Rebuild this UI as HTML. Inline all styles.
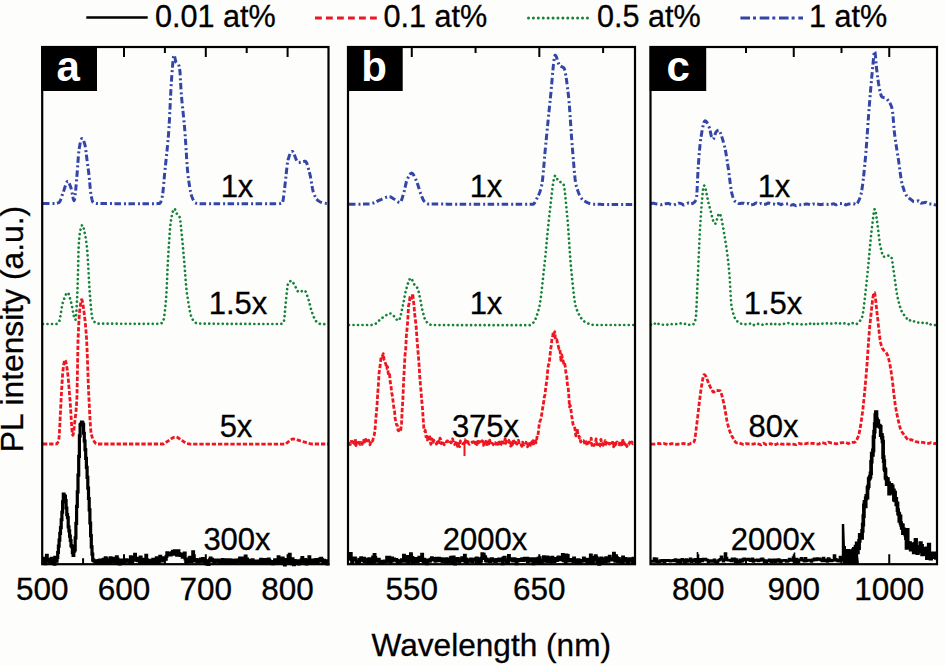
<!DOCTYPE html>
<html><head><meta charset="utf-8"><style>
html,body{margin:0;padding:0;background:#fdfdfb;width:945px;height:666px;overflow:hidden}
svg{display:block}
text{font-family:"Liberation Sans", sans-serif}
</style></head><body>
<svg width="945" height="666" viewBox="0 0 945 666" font-family='"Liberation Sans", sans-serif' fill="#000">
<rect width="945" height="666" fill="#fdfdfb"/>
<path d="M43.00,203.50L43.50,203.50L44.00,203.50L44.50,203.50L45.00,203.50L45.50,203.50L46.00,203.50L46.50,203.50L47.00,203.50L47.50,203.50L48.00,203.50L48.50,203.50L49.00,203.50L49.50,203.50L50.00,203.50L50.50,203.50L51.00,203.50L51.50,203.50L52.00,203.50L52.50,203.50L53.00,203.50L53.50,203.50L54.00,203.50L54.50,203.50L55.00,203.50L55.50,203.48L56.00,203.43L56.50,203.34L57.00,203.23L57.50,203.08L58.00,202.91L58.50,202.72L59.00,202.50L59.50,202.05L60.00,201.22L60.50,200.08L61.00,198.74L61.50,197.27L62.00,195.77L62.50,194.31L63.00,193.00L63.50,191.66L64.00,190.13L64.50,188.50L65.00,186.84L65.50,185.26L66.00,183.83L66.50,182.64L67.00,181.79L67.50,181.34L68.00,181.39L68.50,181.89L69.00,182.76L69.50,183.89L70.00,185.21L70.50,186.61L71.00,188.00L71.50,189.83L72.00,192.33L72.50,195.08L73.00,197.65L73.50,199.62L74.00,200.57L74.50,199.77L75.00,196.75L75.50,192.12L76.00,186.52L76.50,180.60L77.00,175.00L77.50,168.74L78.00,161.44L78.50,154.67L79.00,150.00L79.50,146.96L80.00,144.17L80.50,141.78L81.00,139.94L81.50,138.80L82.00,138.51L82.50,138.82L83.00,139.51L83.50,140.54L84.00,141.84L84.50,143.35L85.00,145.00L85.50,147.60L86.00,151.48L86.50,155.87L87.00,160.00L87.50,163.65L88.00,167.23L88.50,170.95L89.00,175.00L89.50,180.06L90.00,185.87L90.50,191.25L91.00,195.00L91.50,197.45L92.00,199.62L92.50,201.33L93.00,202.41L93.50,202.78L94.00,202.97L94.50,203.13L95.00,203.26L95.50,203.36L96.00,203.44L96.50,203.48L97.00,203.50L97.50,203.50L98.00,203.51L98.50,203.51L99.00,203.52L99.50,203.52L100.00,203.53L100.50,203.53L101.00,203.54L101.50,203.54L102.00,203.54L102.50,203.55L103.00,203.55L103.50,203.56L104.00,203.56L104.50,203.56L105.00,203.57L105.50,203.57L106.00,203.57L106.50,203.58L107.00,203.58L107.50,203.58L108.00,203.59L108.50,203.59L109.00,203.59L109.50,203.60L110.00,203.60L110.50,203.60L111.00,203.61L111.50,203.61L112.00,203.61L112.50,203.61L113.00,203.62L113.50,203.62L114.00,203.62L114.50,203.62L115.00,203.63L115.50,203.63L116.00,203.63L116.50,203.63L117.00,203.64L117.50,203.64L118.00,203.64L118.50,203.64L119.00,203.64L119.50,203.65L120.00,203.65L120.50,203.65L121.00,203.65L121.50,203.65L122.00,203.66L122.50,203.66L123.00,203.66L123.50,203.66L124.00,203.66L124.50,203.66L125.00,203.67L125.50,203.67L126.00,203.67L126.50,203.67L127.00,203.67L127.50,203.67L128.00,203.67L128.50,203.68L129.00,203.68L129.50,203.68L130.00,203.68L130.50,203.68L131.00,203.68L131.50,203.68L132.00,203.68L132.50,203.68L133.00,203.68L133.50,203.69L134.00,203.69L134.50,203.69L135.00,203.69L135.50,203.69L136.00,203.69L136.50,203.69L137.00,203.69L137.50,203.69L138.00,203.69L138.50,203.69L139.00,203.69L139.50,203.69L140.00,203.69L140.50,203.69L141.00,203.69L141.50,203.70L142.00,203.70L142.50,203.70L143.00,203.70L143.50,203.70L144.00,203.70L144.50,203.70L145.00,203.70L145.50,203.70L146.00,203.70L146.50,203.70L147.00,203.70L147.50,203.70L148.00,203.70L148.50,203.70L149.00,203.70L149.50,203.70L150.00,203.70L150.50,203.70L151.00,203.70L151.50,203.70L152.00,203.70L152.50,203.70L153.00,203.70L153.50,203.70L154.00,203.70L154.50,203.70L155.00,203.70L155.50,203.70L156.00,203.69L156.50,203.67L157.00,203.65L157.50,203.62L158.00,203.59L158.50,203.54L159.00,203.49L159.50,203.43L160.00,203.24L160.50,202.51L161.00,201.31L161.50,199.76L162.00,198.00L162.50,195.34L163.00,191.31L163.50,186.33L164.00,180.83L164.50,175.24L165.00,170.00L165.50,165.17L166.00,160.47L166.50,155.75L167.00,150.90L167.50,145.79L168.00,140.29L168.50,134.27L169.00,127.56L169.50,118.87L170.00,108.56L170.50,97.83L171.00,87.90L171.50,80.00L172.00,73.27L172.50,66.60L173.00,60.82L173.50,56.74L174.00,55.20L174.50,56.13L175.00,58.25L175.50,60.54L176.00,62.00L176.50,62.55L177.00,62.89L177.50,63.19L178.00,63.62L178.50,64.36L179.00,65.85L179.50,68.18L180.00,72.03L180.50,80.99L181.00,90.00L181.50,96.26L182.00,101.78L182.50,106.80L183.00,111.56L183.50,116.29L184.00,121.24L184.50,126.65L185.00,132.86L185.50,140.15L186.00,148.06L186.50,156.03L187.00,163.54L187.50,170.05L188.00,175.00L188.50,178.87L189.00,182.45L189.50,185.74L190.00,188.71L190.50,191.34L191.00,193.61L191.50,195.50L192.00,197.00L192.50,198.26L193.00,199.45L193.50,200.52L194.00,201.44L194.50,202.19L195.00,202.72L195.50,203.00L196.00,203.14L196.50,203.27L197.00,203.38L197.50,203.47L198.00,203.55L198.50,203.62L199.00,203.66L199.50,203.69L200.00,203.70L200.50,203.70L201.00,203.70L201.50,203.70L202.00,203.70L202.50,203.70L203.00,203.70L203.50,203.70L204.00,203.70L204.50,203.70L205.00,203.70L205.50,203.70L206.00,203.70L206.50,203.70L207.00,203.70L207.50,203.70L208.00,203.70L208.50,203.70L209.00,203.70L209.50,203.70L210.00,203.70L210.50,203.70L211.00,203.70L211.50,203.70L212.00,203.70L212.50,203.70L213.00,203.70L213.50,203.70L214.00,203.70L214.50,203.70L215.00,203.70L215.50,203.70L216.00,203.70L216.50,203.70L217.00,203.70L217.50,203.70L218.00,203.70L218.50,203.70L219.00,203.70L219.50,203.70L220.00,203.70L220.50,203.70L221.00,203.70L221.50,203.70L222.00,203.70L222.50,203.70L223.00,203.70L223.50,203.70L224.00,203.70L224.50,203.70L225.00,203.70L225.50,203.70L226.00,203.70L226.50,203.70L227.00,203.70L227.50,203.70L228.00,203.70L228.50,203.70L229.00,203.70L229.50,203.70L230.00,203.70L230.50,203.70L231.00,203.70L231.50,203.70L232.00,203.70L232.50,203.70L233.00,203.70L233.50,203.70L234.00,203.70L234.50,203.70L235.00,203.70L235.50,203.70L236.00,203.70L236.50,203.70L237.00,203.70L237.50,203.70L238.00,203.70L238.50,203.70L239.00,203.70L239.50,203.70L240.00,203.70L240.50,203.70L241.00,203.70L241.50,203.70L242.00,203.70L242.50,203.70L243.00,203.70L243.50,203.70L244.00,203.70L244.50,203.70L245.00,203.70L245.50,203.70L246.00,203.70L246.50,203.70L247.00,203.70L247.50,203.70L248.00,203.70L248.50,203.70L249.00,203.70L249.50,203.70L250.00,203.70L250.50,203.70L251.00,203.70L251.50,203.70L252.00,203.70L252.50,203.70L253.00,203.70L253.50,203.70L254.00,203.70L254.50,203.70L255.00,203.70L255.50,203.70L256.00,203.70L256.50,203.70L257.00,203.70L257.50,203.70L258.00,203.70L258.50,203.70L259.00,203.70L259.50,203.70L260.00,203.70L260.50,203.70L261.00,203.70L261.50,203.70L262.00,203.70L262.50,203.70L263.00,203.70L263.50,203.70L264.00,203.70L264.50,203.70L265.00,203.70L265.50,203.70L266.00,203.70L266.50,203.70L267.00,203.70L267.50,203.70L268.00,203.70L268.50,203.70L269.00,203.70L269.50,203.70L270.00,203.70L270.50,203.70L271.00,203.70L271.50,203.70L272.00,203.70L272.50,203.70L273.00,203.70L273.50,203.70L274.00,203.70L274.50,203.70L275.00,203.70L275.50,203.70L276.00,203.70L276.50,203.70L277.00,203.70L277.50,203.70L278.00,203.70L278.50,203.69L279.00,203.67L279.50,203.62L280.00,203.56L280.50,203.47L281.00,203.37L281.50,203.25L282.00,203.10L282.50,202.76L283.00,200.86L283.50,197.56L284.00,193.43L284.50,189.05L285.00,185.00L285.50,180.82L286.00,176.00L286.50,171.02L287.00,166.38L287.50,162.54L288.00,160.00L288.50,158.31L289.00,156.74L289.50,155.30L290.00,154.04L290.50,152.99L291.00,152.18L291.50,151.64L292.00,151.41L292.50,151.53L293.00,152.03L293.50,152.84L294.00,153.89L294.50,155.10L295.00,156.41L295.50,157.75L296.00,159.05L296.50,160.24L297.00,161.24L297.50,161.99L298.00,162.42L298.50,162.50L299.00,162.47L299.50,162.41L300.00,162.32L300.50,162.22L301.00,162.10L301.50,161.98L302.00,161.85L302.50,161.72L303.00,161.60L303.50,161.50L304.00,161.41L304.50,161.34L305.00,161.31L305.50,161.34L306.00,161.79L306.50,162.66L307.00,163.88L307.50,165.38L308.00,167.09L308.50,168.92L309.00,170.81L309.50,172.68L310.00,174.59L310.50,177.01L311.00,179.80L311.50,182.79L312.00,185.76L312.50,188.54L313.00,190.93L313.50,192.73L314.00,194.00L314.50,195.17L315.00,196.24L315.50,197.21L316.00,198.08L316.50,198.85L317.00,199.51L317.50,200.06L318.00,200.50L318.50,200.86L319.00,201.20L319.50,201.50L320.00,201.77L320.50,202.02L321.00,202.23L321.50,202.42L322.00,202.57L322.50,202.70L323.00,202.81L323.50,202.92L324.00,203.03L324.50,203.13L325.00,203.22L325.50,203.30L326.00,203.37L326.50,203.42L327.00,203.46L327.50,203.49L328.00,203.50" fill="none" stroke="#3346a8" stroke-width="3.0" stroke-linejoin="round" stroke-linecap="butt" stroke-dasharray="6.5 3 2 2.5" />
<path d="M43.00,324.00L43.50,324.00L44.00,324.00L44.50,324.00L45.00,324.00L45.50,324.00L46.00,324.00L46.50,324.00L47.00,324.00L47.50,324.00L48.00,324.00L48.50,324.00L49.00,324.00L49.50,324.00L50.00,324.00L50.50,324.00L51.00,324.00L51.50,324.00L52.00,324.00L52.50,324.00L53.00,324.00L53.50,324.00L54.00,324.00L54.50,324.00L55.00,324.00L55.50,324.00L56.00,324.00L56.50,323.92L57.00,323.71L57.50,323.38L58.00,322.95L58.50,322.45L59.00,321.86L59.50,320.55L60.00,318.39L60.50,315.64L61.00,312.56L61.50,309.40L62.00,306.41L62.50,303.86L63.00,302.00L63.50,300.56L64.00,299.13L64.50,297.75L65.00,296.45L65.50,295.28L66.00,294.28L66.50,293.47L67.00,292.91L67.50,292.63L68.00,292.74L68.50,293.50L69.00,294.80L69.50,296.46L70.00,298.32L70.50,300.22L71.00,302.00L71.50,303.95L72.00,306.34L72.50,308.99L73.00,311.71L73.50,314.32L74.00,316.63L74.50,318.45L75.00,319.59L75.50,319.81L76.00,316.77L76.50,310.13L77.00,300.81L77.50,289.72L78.00,273.35L78.50,250.10L79.00,241.16L79.50,235.45L80.00,232.00L80.50,229.69L81.00,227.71L81.50,226.19L82.00,225.25L82.50,225.03L83.00,225.86L83.50,227.57L84.00,229.75L84.50,232.00L85.00,234.29L85.50,236.90L86.00,239.94L86.50,243.47L87.00,247.60L87.50,253.52L88.00,261.69L88.50,271.03L89.00,280.50L89.50,289.04L90.00,295.67L90.50,301.66L91.00,307.53L91.50,312.78L92.00,316.92L92.50,319.45L93.00,320.30L93.50,320.90L94.00,321.45L94.50,321.93L95.00,322.34L95.50,322.70L96.00,322.99L96.50,323.23L97.00,323.40L97.50,323.52L98.00,323.59L98.50,323.60L99.00,323.61L99.50,323.61L100.00,323.61L100.50,323.62L101.00,323.62L101.50,323.63L102.00,323.63L102.50,323.64L103.00,323.64L103.50,323.64L104.00,323.65L104.50,323.65L105.00,323.65L105.50,323.66L106.00,323.66L106.50,323.66L107.00,323.67L107.50,323.67L108.00,323.67L108.50,323.68L109.00,323.68L109.50,323.68L110.00,323.69L110.50,323.69L111.00,323.69L111.50,323.70L112.00,323.70L112.50,323.70L113.00,323.70L113.50,323.71L114.00,323.71L114.50,323.71L115.00,323.72L115.50,323.72L116.00,323.72L116.50,323.72L117.00,323.72L117.50,323.73L118.00,323.73L118.50,323.73L119.00,323.73L119.50,323.74L120.00,323.74L120.50,323.74L121.00,323.74L121.50,323.74L122.00,323.75L122.50,323.75L123.00,323.75L123.50,323.75L124.00,323.75L124.50,323.75L125.00,323.76L125.50,323.76L126.00,323.76L126.50,323.76L127.00,323.76L127.50,323.76L128.00,323.77L128.50,323.77L129.00,323.77L129.50,323.77L130.00,323.77L130.50,323.77L131.00,323.77L131.50,323.77L132.00,323.78L132.50,323.78L133.00,323.78L133.50,323.78L134.00,323.78L134.50,323.78L135.00,323.78L135.50,323.78L136.00,323.78L136.50,323.78L137.00,323.79L137.50,323.79L138.00,323.79L138.50,323.79L139.00,323.79L139.50,323.79L140.00,323.79L140.50,323.79L141.00,323.79L141.50,323.79L142.00,323.79L142.50,323.79L143.00,323.79L143.50,323.79L144.00,323.79L144.50,323.79L145.00,323.79L145.50,323.80L146.00,323.80L146.50,323.80L147.00,323.80L147.50,323.80L148.00,323.80L148.50,323.80L149.00,323.80L149.50,323.80L150.00,323.80L150.50,323.80L151.00,323.80L151.50,323.80L152.00,323.80L152.50,323.80L153.00,323.80L153.50,323.80L154.00,323.80L154.50,323.80L155.00,323.80L155.50,323.80L156.00,323.80L156.50,323.80L157.00,323.80L157.50,323.80L158.00,323.80L158.50,323.80L159.00,323.80L159.50,323.80L160.00,323.80L160.50,323.74L161.00,323.56L161.50,323.28L162.00,322.90L162.50,322.43L163.00,321.86L163.50,320.42L164.00,317.86L164.50,314.36L165.00,310.10L165.50,305.26L166.00,300.00L166.50,292.31L167.00,281.53L167.50,269.90L168.00,259.68L168.50,251.53L169.00,243.48L169.50,235.87L170.00,229.13L170.50,223.70L171.00,220.00L171.50,217.38L172.00,214.96L172.50,212.82L173.00,211.04L173.50,209.71L174.00,208.91L174.50,208.72L175.00,209.26L175.50,210.36L176.00,211.71L176.50,213.02L177.00,214.00L177.50,214.59L178.00,215.02L178.50,215.41L179.00,215.90L179.50,216.62L180.00,218.15L180.50,221.92L181.00,226.94L181.50,232.00L182.00,236.93L182.50,242.25L183.00,247.82L183.50,253.49L184.00,259.13L184.50,265.21L185.00,271.68L185.50,278.15L186.00,284.26L186.50,289.60L187.00,293.80L187.50,297.24L188.00,300.53L188.50,303.66L189.00,306.60L189.50,309.31L190.00,311.77L190.50,313.95L191.00,315.81L191.50,317.34L192.00,318.49L192.50,319.29L193.00,319.97L193.50,320.62L194.00,321.22L194.50,321.76L195.00,322.24L195.50,322.65L196.00,322.99L196.50,323.25L197.00,323.42L197.50,323.50L198.00,323.51L198.50,323.52L199.00,323.52L199.50,323.53L200.00,323.54L200.50,323.55L201.00,323.56L201.50,323.56L202.00,323.57L202.50,323.58L203.00,323.59L203.50,323.59L204.00,323.60L204.50,323.61L205.00,323.62L205.50,323.62L206.00,323.63L206.50,323.64L207.00,323.64L207.50,323.65L208.00,323.66L208.50,323.66L209.00,323.67L209.50,323.68L210.00,323.68L210.50,323.69L211.00,323.69L211.50,323.70L212.00,323.71L212.50,323.71L213.00,323.72L213.50,323.72L214.00,323.73L214.50,323.74L215.00,323.74L215.50,323.75L216.00,323.75L216.50,323.76L217.00,323.76L217.50,323.77L218.00,323.77L218.50,323.78L219.00,323.78L219.50,323.79L220.00,323.79L220.50,323.80L221.00,323.80L221.50,323.81L222.00,323.81L222.50,323.81L223.00,323.82L223.50,323.82L224.00,323.83L224.50,323.83L225.00,323.84L225.50,323.84L226.00,323.84L226.50,323.85L227.00,323.85L227.50,323.86L228.00,323.86L228.50,323.86L229.00,323.87L229.50,323.87L230.00,323.87L230.50,323.88L231.00,323.88L231.50,323.88L232.00,323.89L232.50,323.89L233.00,323.89L233.50,323.90L234.00,323.90L234.50,323.90L235.00,323.90L235.50,323.91L236.00,323.91L236.50,323.91L237.00,323.92L237.50,323.92L238.00,323.92L238.50,323.92L239.00,323.93L239.50,323.93L240.00,323.93L240.50,323.93L241.00,323.93L241.50,323.94L242.00,323.94L242.50,323.94L243.00,323.94L243.50,323.95L244.00,323.95L244.50,323.95L245.00,323.95L245.50,323.95L246.00,323.95L246.50,323.96L247.00,323.96L247.50,323.96L248.00,323.96L248.50,323.96L249.00,323.96L249.50,323.97L250.00,323.97L250.50,323.97L251.00,323.97L251.50,323.97L252.00,323.97L252.50,323.97L253.00,323.97L253.50,323.98L254.00,323.98L254.50,323.98L255.00,323.98L255.50,323.98L256.00,323.98L256.50,323.98L257.00,323.98L257.50,323.98L258.00,323.99L258.50,323.99L259.00,323.99L259.50,323.99L260.00,323.99L260.50,323.99L261.00,323.99L261.50,323.99L262.00,323.99L262.50,323.99L263.00,323.99L263.50,323.99L264.00,323.99L264.50,323.99L265.00,323.99L265.50,323.99L266.00,324.00L266.50,324.00L267.00,324.00L267.50,324.00L268.00,324.00L268.50,324.00L269.00,324.00L269.50,324.00L270.00,324.00L270.50,324.00L271.00,324.00L271.50,324.00L272.00,324.00L272.50,324.00L273.00,324.00L273.50,324.00L274.00,324.00L274.50,324.00L275.00,324.00L275.50,324.00L276.00,324.00L276.50,324.00L277.00,324.00L277.50,324.00L278.00,324.00L278.50,324.00L279.00,324.00L279.50,324.00L280.00,324.00L280.50,323.97L281.00,323.89L281.50,323.75L282.00,323.55L282.50,323.29L283.00,322.97L283.50,322.58L284.00,321.08L284.50,316.90L285.00,311.19L285.50,305.15L286.00,300.00L286.50,295.24L287.00,290.29L287.50,286.19L288.00,284.00L288.50,283.17L289.00,282.46L289.50,281.87L290.00,281.41L290.50,281.07L291.00,280.87L291.50,280.80L292.00,280.99L292.50,281.52L293.00,282.29L293.50,283.21L294.00,284.19L294.50,285.15L295.00,286.00L295.50,286.85L296.00,287.84L296.50,288.88L297.00,289.89L297.50,290.80L298.00,291.52L298.50,291.98L299.00,292.10L299.50,292.05L300.00,291.93L300.50,291.76L301.00,291.56L301.50,291.34L302.00,291.11L302.50,290.90L303.00,290.70L303.50,290.54L304.00,290.44L304.50,290.40L305.00,290.65L305.50,291.33L306.00,292.36L306.50,293.65L307.00,295.12L307.50,296.67L308.00,298.22L308.50,299.69L309.00,301.34L309.50,303.23L310.00,305.24L310.50,307.27L311.00,309.20L311.50,310.92L312.00,312.35L312.50,313.70L313.00,315.03L313.50,316.31L314.00,317.51L314.50,318.61L315.00,319.59L315.50,320.42L316.00,321.09L316.50,321.58L317.00,322.02L317.50,322.43L318.00,322.81L318.50,323.15L319.00,323.44L319.50,323.68L320.00,323.86L320.50,323.97L321.00,324.01L321.50,324.04L322.00,324.06L322.50,324.08L323.00,324.11L323.50,324.12L324.00,324.14L324.50,324.15L325.00,324.17L325.50,324.18L326.00,324.19L326.50,324.19L327.00,324.20L327.50,324.20L328.00,324.20" fill="none" stroke="#16823a" stroke-width="2.7" stroke-linejoin="round" stroke-linecap="round" stroke-dasharray="0.01 4.5" />
<path d="M43.00,444.00L43.50,444.00L44.00,444.00L44.50,444.00L45.00,444.00L45.50,444.00L46.00,444.00L46.50,444.00L47.00,444.00L47.50,444.00L48.00,444.00L48.50,444.00L49.00,444.00L49.50,444.00L50.00,444.00L50.50,444.00L51.00,444.00L51.50,444.00L52.00,444.00L52.50,444.00L53.00,444.00L53.50,444.00L54.00,444.00L54.50,444.00L55.00,444.00L55.50,444.00L56.00,444.00L56.50,443.89L57.00,443.55L57.50,442.95L58.00,442.07L58.50,440.88L59.00,438.34L59.50,430.95L60.00,421.79L60.50,411.53L61.00,401.58L61.50,392.70L62.00,383.69L62.50,375.66L63.00,370.00L63.50,366.08L64.00,362.70L64.50,360.43L65.00,359.83L65.50,360.74L66.00,362.67L66.50,365.21L67.00,368.00L67.50,371.50L68.00,376.19L68.50,381.74L69.00,387.79L69.50,393.99L70.00,400.00L70.50,406.90L71.00,415.14L71.50,423.40L72.00,430.36L72.50,434.70L73.00,435.28L73.50,433.13L74.00,429.32L74.50,424.67L75.00,420.00L75.50,415.75L76.00,411.07L76.50,404.85L77.00,395.35L77.50,368.79L78.00,341.13L78.50,328.84L79.00,319.63L79.50,312.74L80.00,308.00L80.50,304.39L81.00,301.44L81.50,299.77L82.00,299.94L82.50,301.77L83.00,304.75L83.50,308.33L84.00,312.00L84.50,315.79L85.00,320.16L85.50,325.24L86.00,331.15L86.50,338.00L87.00,347.79L87.50,361.00L88.00,375.50L88.50,389.14L89.00,399.90L89.50,409.66L90.00,419.07L90.50,427.07L91.00,432.60L91.50,434.95L92.00,436.47L92.50,437.84L93.00,439.08L93.50,440.17L94.00,441.12L94.50,441.94L95.00,442.61L95.50,443.15L96.00,443.56L96.50,443.83L97.00,443.98L97.50,444.00L98.00,444.00L98.50,444.00L99.00,444.00L99.50,444.00L100.00,444.00L100.50,444.00L101.00,444.00L101.50,444.00L102.00,444.00L102.50,444.00L103.00,444.00L103.50,444.00L104.00,444.00L104.50,444.00L105.00,444.00L105.50,444.00L106.00,444.00L106.50,444.00L107.00,444.00L107.50,444.00L108.00,444.00L108.50,444.00L109.00,444.00L109.50,444.00L110.00,444.00L110.50,444.00L111.00,444.00L111.50,444.00L112.00,444.00L112.50,444.00L113.00,444.00L113.50,444.00L114.00,444.00L114.50,444.00L115.00,444.00L115.50,444.00L116.00,444.00L116.50,444.00L117.00,444.00L117.50,444.00L118.00,444.00L118.50,444.00L119.00,444.00L119.50,444.00L120.00,444.00L120.50,444.00L121.00,444.00L121.50,444.00L122.00,444.00L122.50,444.00L123.00,444.00L123.50,444.00L124.00,444.00L124.50,444.00L125.00,444.00L125.50,444.00L126.00,444.00L126.50,444.00L127.00,444.00L127.50,444.00L128.00,444.00L128.50,444.00L129.00,444.00L129.50,444.00L130.00,444.00L130.50,444.00L131.00,444.00L131.50,444.00L132.00,444.00L132.50,444.00L133.00,444.00L133.50,444.00L134.00,444.00L134.50,444.00L135.00,444.00L135.50,444.00L136.00,444.00L136.50,444.00L137.00,444.00L137.50,444.00L138.00,444.00L138.50,444.00L139.00,444.00L139.50,444.00L140.00,444.00L140.50,444.00L141.00,444.00L141.50,444.00L142.00,444.00L142.50,444.00L143.00,444.00L143.50,444.00L144.00,444.00L144.50,444.00L145.00,444.00L145.50,444.00L146.00,444.00L146.50,444.00L147.00,444.00L147.50,444.00L148.00,444.00L148.50,444.00L149.00,444.00L149.50,444.00L150.00,444.00L150.50,444.00L151.00,444.00L151.50,444.00L152.00,444.00L152.50,444.00L153.00,444.00L153.50,444.00L154.00,444.00L154.50,444.00L155.00,444.00L155.50,444.00L156.00,444.00L156.50,444.00L157.00,444.00L157.50,444.00L158.00,444.00L158.50,444.00L159.00,444.00L159.50,444.00L160.00,444.00L160.50,444.00L161.00,444.00L161.50,444.00L162.00,444.00L162.50,444.00L163.00,444.00L163.50,443.94L164.00,443.78L164.50,443.53L165.00,443.22L165.50,442.86L166.00,442.47L166.50,442.07L167.00,441.68L167.50,441.31L168.00,441.00L168.50,440.70L169.00,440.38L169.50,440.03L170.00,439.68L170.50,439.32L171.00,438.96L171.50,438.61L172.00,438.28L172.50,437.96L173.00,437.68L173.50,437.43L174.00,437.22L174.50,437.06L175.00,436.95L175.50,436.90L176.00,436.93L176.50,437.03L177.00,437.20L177.50,437.43L178.00,437.71L178.50,438.03L179.00,438.38L179.50,438.74L180.00,439.12L180.50,439.49L181.00,439.85L181.50,440.19L182.00,440.50L182.50,440.81L183.00,441.15L183.50,441.50L184.00,441.87L184.50,442.22L185.00,442.56L185.50,442.87L186.00,443.14L186.50,443.35L187.00,443.50L187.50,443.61L188.00,443.72L188.50,443.82L189.00,443.91L189.50,443.99L190.00,444.06L190.50,444.12L191.00,444.16L191.50,444.19L192.00,444.20L192.50,444.20L193.00,444.20L193.50,444.20L194.00,444.20L194.50,444.20L195.00,444.20L195.50,444.20L196.00,444.20L196.50,444.20L197.00,444.20L197.50,444.20L198.00,444.20L198.50,444.20L199.00,444.20L199.50,444.20L200.00,444.20L200.50,444.20L201.00,444.20L201.50,444.20L202.00,444.20L202.50,444.20L203.00,444.20L203.50,444.20L204.00,444.20L204.50,444.20L205.00,444.20L205.50,444.20L206.00,444.20L206.50,444.20L207.00,444.20L207.50,444.20L208.00,444.20L208.50,444.20L209.00,444.20L209.50,444.20L210.00,444.20L210.50,444.20L211.00,444.20L211.50,444.20L212.00,444.20L212.50,444.20L213.00,444.20L213.50,444.20L214.00,444.20L214.50,444.20L215.00,444.20L215.50,444.20L216.00,444.20L216.50,444.20L217.00,444.20L217.50,444.20L218.00,444.20L218.50,444.20L219.00,444.20L219.50,444.20L220.00,444.20L220.50,444.20L221.00,444.20L221.50,444.20L222.00,444.20L222.50,444.20L223.00,444.20L223.50,444.20L224.00,444.20L224.50,444.20L225.00,444.20L225.50,444.20L226.00,444.20L226.50,444.20L227.00,444.20L227.50,444.20L228.00,444.20L228.50,444.20L229.00,444.20L229.50,444.20L230.00,444.20L230.50,444.20L231.00,444.20L231.50,444.20L232.00,444.20L232.50,444.20L233.00,444.20L233.50,444.20L234.00,444.20L234.50,444.20L235.00,444.20L235.50,444.20L236.00,444.20L236.50,444.20L237.00,444.20L237.50,444.20L238.00,444.20L238.50,444.20L239.00,444.20L239.50,444.20L240.00,444.20L240.50,444.20L241.00,444.20L241.50,444.20L242.00,444.20L242.50,444.20L243.00,444.20L243.50,444.20L244.00,444.20L244.50,444.20L245.00,444.20L245.50,444.20L246.00,444.20L246.50,444.20L247.00,444.20L247.50,444.20L248.00,444.20L248.50,444.20L249.00,444.20L249.50,444.20L250.00,444.20L250.50,444.20L251.00,444.20L251.50,444.20L252.00,444.20L252.50,444.20L253.00,444.20L253.50,444.20L254.00,444.20L254.50,444.20L255.00,444.20L255.50,444.20L256.00,444.20L256.50,444.20L257.00,444.20L257.50,444.20L258.00,444.20L258.50,444.20L259.00,444.20L259.50,444.20L260.00,444.20L260.50,444.20L261.00,444.20L261.50,444.20L262.00,444.20L262.50,444.20L263.00,444.20L263.50,444.20L264.00,444.20L264.50,444.20L265.00,444.20L265.50,444.20L266.00,444.20L266.50,444.20L267.00,444.20L267.50,444.20L268.00,444.20L268.50,444.20L269.00,444.20L269.50,444.20L270.00,444.20L270.50,444.20L271.00,444.20L271.50,444.20L272.00,444.20L272.50,444.20L273.00,444.20L273.50,444.20L274.00,444.20L274.50,444.20L275.00,444.20L275.50,444.20L276.00,444.20L276.50,444.20L277.00,444.20L277.50,444.20L278.00,444.20L278.50,444.20L279.00,444.20L279.50,444.20L280.00,444.20L280.50,444.20L281.00,444.20L281.50,444.20L282.00,444.20L282.50,444.20L283.00,444.20L283.50,444.20L284.00,444.20L284.50,444.20L285.00,444.20L285.50,444.08L286.00,443.78L286.50,443.35L287.00,442.87L287.50,442.39L288.00,442.00L288.50,441.65L289.00,441.26L289.50,440.86L290.00,440.46L290.50,440.08L291.00,439.74L291.50,439.44L292.00,439.21L292.50,439.05L293.00,439.00L293.50,439.01L294.00,439.06L294.50,439.12L295.00,439.21L295.50,439.32L296.00,439.44L296.50,439.58L297.00,439.74L297.50,439.90L298.00,440.07L298.50,440.24L299.00,440.42L299.50,440.60L300.00,440.77L300.50,440.94L301.00,441.11L301.50,441.26L302.00,441.40L302.50,441.53L303.00,441.67L303.50,441.80L304.00,441.94L304.50,442.07L305.00,442.21L305.50,442.34L306.00,442.47L306.50,442.61L307.00,442.74L307.50,442.87L308.00,443.00L308.50,443.14L309.00,443.30L309.50,443.47L310.00,443.63L310.50,443.77L311.00,443.89L311.50,443.97L312.00,444.00L312.50,444.00L313.00,444.00L313.50,444.00L314.00,444.00L314.50,444.00L315.00,444.00L315.50,444.00L316.00,444.00L316.50,444.00L317.00,444.00L317.50,444.00L318.00,444.00L318.50,444.00L319.00,444.00L319.50,444.00L320.00,444.00L320.50,444.00L321.00,444.00L321.50,444.00L322.00,444.00L322.50,444.00L323.00,444.00L323.50,444.00L324.00,444.00L324.50,444.00L325.00,444.00L325.50,444.00L326.00,444.00L326.50,444.00L327.00,444.00L327.50,444.00L328.00,444.00" fill="none" stroke="#ee1620" stroke-width="2.8" stroke-linejoin="round" stroke-linecap="butt" stroke-dasharray="4.3 1.9" />
<path d="M349.00,204.20L349.50,204.20L350.00,204.20L350.50,204.20L351.00,204.20L351.50,204.20L352.00,204.20L352.50,204.20L353.00,204.20L353.50,204.19L354.00,204.19L354.50,204.19L355.00,204.19L355.50,204.19L356.00,204.18L356.50,204.18L357.00,204.18L357.50,204.18L358.00,204.17L358.50,204.17L359.00,204.17L359.50,204.16L360.00,204.16L360.50,204.15L361.00,204.15L361.50,204.14L362.00,204.14L362.50,204.13L363.00,204.13L363.50,204.12L364.00,204.11L364.50,204.10L365.00,204.10L365.50,204.09L366.00,204.08L366.50,204.07L367.00,204.06L367.50,204.05L368.00,204.04L368.50,204.03L369.00,204.02L369.50,204.01L370.00,204.00L370.50,203.96L371.00,203.87L371.50,203.74L372.00,203.58L372.50,203.40L373.00,203.21L373.50,203.03L374.00,202.86L374.50,202.66L375.00,202.44L375.50,202.20L376.00,201.96L376.50,201.71L377.00,201.45L377.50,201.19L378.00,200.93L378.50,200.68L379.00,200.44L379.50,200.21L380.00,200.00L380.50,199.79L381.00,199.57L381.50,199.35L382.00,199.11L382.50,198.88L383.00,198.64L383.50,198.41L384.00,198.18L384.50,197.96L385.00,197.75L385.50,197.55L386.00,197.36L386.50,197.20L387.00,197.05L387.50,196.93L388.00,196.83L388.50,196.75L389.00,196.71L389.50,196.70L390.00,196.77L390.50,196.92L391.00,197.14L391.50,197.42L392.00,197.73L392.50,198.06L393.00,198.39L393.50,198.71L394.00,199.00L394.50,199.30L395.00,199.64L395.50,200.01L396.00,200.41L396.50,200.80L397.00,201.19L397.50,201.55L398.00,201.87L398.50,202.14L399.00,202.34L399.50,202.47L400.00,202.49L400.50,202.13L401.00,201.32L401.50,200.15L402.00,198.72L402.50,197.09L403.00,195.37L403.50,193.65L404.00,192.00L404.50,190.17L405.00,187.98L405.50,185.65L406.00,183.40L406.50,181.44L407.00,180.00L407.50,178.89L408.00,177.82L408.50,176.79L409.00,175.85L409.50,175.00L410.00,174.28L410.50,173.71L411.00,173.32L411.50,173.12L412.00,173.16L412.50,173.48L413.00,174.05L413.50,174.82L414.00,175.74L414.50,176.77L415.00,177.85L415.50,178.94L416.00,180.00L416.50,181.12L417.00,182.40L417.50,183.81L418.00,185.32L418.50,186.88L419.00,188.46L419.50,190.02L420.00,191.53L420.50,192.95L421.00,194.25L421.50,195.56L422.00,196.90L422.50,198.19L423.00,199.36L423.50,200.32L424.00,201.00L424.50,201.51L425.00,201.99L425.50,202.44L426.00,202.85L426.50,203.21L427.00,203.51L427.50,203.74L428.00,203.91L428.50,203.99L429.00,204.00L429.50,204.01L430.00,204.01L430.50,204.01L431.00,204.02L431.50,204.02L432.00,204.03L432.50,204.03L433.00,204.03L433.50,204.04L434.00,204.04L434.50,204.05L435.00,204.05L435.50,204.05L436.00,204.06L436.50,204.06L437.00,204.06L437.50,204.07L438.00,204.07L438.50,204.07L439.00,204.08L439.50,204.08L440.00,204.08L440.50,204.09L441.00,204.09L441.50,204.09L442.00,204.10L442.50,204.10L443.00,204.10L443.50,204.11L444.00,204.11L444.50,204.11L445.00,204.11L445.50,204.12L446.00,204.12L446.50,204.12L447.00,204.13L447.50,204.13L448.00,204.13L448.50,204.13L449.00,204.14L449.50,204.14L450.00,204.14L450.50,204.15L451.00,204.15L451.50,204.15L452.00,204.15L452.50,204.16L453.00,204.16L453.50,204.16L454.00,204.16L454.50,204.17L455.00,204.17L455.50,204.17L456.00,204.17L456.50,204.18L457.00,204.18L457.50,204.18L458.00,204.18L458.50,204.18L459.00,204.19L459.50,204.19L460.00,204.19L460.50,204.19L461.00,204.19L461.50,204.20L462.00,204.20L462.50,204.20L463.00,204.20L463.50,204.20L464.00,204.21L464.50,204.21L465.00,204.21L465.50,204.21L466.00,204.21L466.50,204.22L467.00,204.22L467.50,204.22L468.00,204.22L468.50,204.22L469.00,204.22L469.50,204.23L470.00,204.23L470.50,204.23L471.00,204.23L471.50,204.23L472.00,204.23L472.50,204.24L473.00,204.24L473.50,204.24L474.00,204.24L474.50,204.24L475.00,204.24L475.50,204.24L476.00,204.25L476.50,204.25L477.00,204.25L477.50,204.25L478.00,204.25L478.50,204.25L479.00,204.25L479.50,204.25L480.00,204.25L480.50,204.26L481.00,204.26L481.50,204.26L482.00,204.26L482.50,204.26L483.00,204.26L483.50,204.26L484.00,204.26L484.50,204.26L485.00,204.27L485.50,204.27L486.00,204.27L486.50,204.27L487.00,204.27L487.50,204.27L488.00,204.27L488.50,204.27L489.00,204.27L489.50,204.27L490.00,204.27L490.50,204.28L491.00,204.28L491.50,204.28L492.00,204.28L492.50,204.28L493.00,204.28L493.50,204.28L494.00,204.28L494.50,204.28L495.00,204.28L495.50,204.28L496.00,204.28L496.50,204.28L497.00,204.28L497.50,204.28L498.00,204.29L498.50,204.29L499.00,204.29L499.50,204.29L500.00,204.29L500.50,204.29L501.00,204.29L501.50,204.29L502.00,204.29L502.50,204.29L503.00,204.29L503.50,204.29L504.00,204.29L504.50,204.29L505.00,204.29L505.50,204.29L506.00,204.29L506.50,204.29L507.00,204.29L507.50,204.29L508.00,204.29L508.50,204.29L509.00,204.29L509.50,204.29L510.00,204.30L510.50,204.30L511.00,204.30L511.50,204.30L512.00,204.30L512.50,204.30L513.00,204.30L513.50,204.30L514.00,204.30L514.50,204.30L515.00,204.30L515.50,204.30L516.00,204.30L516.50,204.30L517.00,204.30L517.50,204.30L518.00,204.30L518.50,204.30L519.00,204.30L519.50,204.30L520.00,204.30L520.50,204.30L521.00,204.30L521.50,204.30L522.00,204.30L522.50,204.30L523.00,204.30L523.50,204.30L524.00,204.30L524.50,204.30L525.00,204.30L525.50,204.30L526.00,204.30L526.50,204.30L527.00,204.30L527.50,204.30L528.00,204.30L528.50,204.30L529.00,204.30L529.50,204.30L530.00,204.30L530.50,204.30L531.00,204.30L531.50,204.30L532.00,204.30L532.50,204.30L533.00,204.30L533.50,204.13L534.00,203.68L534.50,202.99L535.00,202.13L535.50,201.17L536.00,200.17L536.50,199.19L537.00,198.25L537.50,197.30L538.00,196.31L538.50,195.25L539.00,194.11L539.50,192.84L540.00,191.44L540.50,189.88L541.00,188.12L541.50,186.15L542.00,183.73L542.50,180.08L543.00,175.40L543.50,169.99L544.00,164.15L544.50,158.17L545.00,152.35L545.50,147.00L546.00,141.96L546.50,136.88L547.00,131.78L547.50,126.68L548.00,121.59L548.50,116.54L549.00,111.53L549.50,106.58L550.00,101.71L550.50,96.94L551.00,92.00L551.50,86.46L552.00,80.60L552.50,74.72L553.00,69.11L553.50,64.08L554.00,59.91L554.50,56.90L555.00,55.35L555.50,55.32L556.00,56.01L556.50,57.17L557.00,58.65L557.50,60.29L558.00,61.94L558.50,63.44L559.00,64.65L559.50,65.40L560.00,65.81L560.50,66.12L561.00,66.36L561.50,66.56L562.00,66.75L562.50,66.97L563.00,67.25L563.50,67.62L564.00,68.12L564.50,69.21L565.00,71.02L565.50,73.46L566.00,76.43L566.50,79.83L567.00,83.59L567.50,87.60L568.00,91.76L568.50,96.00L569.00,100.96L569.50,107.11L570.00,114.10L570.50,121.57L571.00,129.18L571.50,136.56L572.00,143.35L572.50,149.34L573.00,155.41L573.50,161.58L574.00,167.60L574.50,173.21L575.00,178.14L575.50,182.13L576.00,184.91L576.50,186.70L577.00,188.34L577.50,189.87L578.00,191.28L578.50,192.59L579.00,193.79L579.50,194.89L580.00,195.89L580.50,196.80L581.00,197.61L581.50,198.33L582.00,198.97L582.50,199.52L583.00,200.00L583.50,200.40L584.00,200.73L584.50,201.03L585.00,201.33L585.50,201.62L586.00,201.90L586.50,202.16L587.00,202.41L587.50,202.65L588.00,202.87L588.50,203.08L589.00,203.28L589.50,203.46L590.00,203.63L590.50,203.77L591.00,203.90L591.50,204.02L592.00,204.11L592.50,204.19L593.00,204.25L593.50,204.28L594.00,204.30L594.50,204.31L595.00,204.31L595.50,204.32L596.00,204.32L596.50,204.33L597.00,204.33L597.50,204.34L598.00,204.35L598.50,204.35L599.00,204.36L599.50,204.36L600.00,204.37L600.50,204.37L601.00,204.37L601.50,204.38L602.00,204.38L602.50,204.39L603.00,204.39L603.50,204.40L604.00,204.40L604.50,204.40L605.00,204.41L605.50,204.41L606.00,204.42L606.50,204.42L607.00,204.42L607.50,204.43L608.00,204.43L608.50,204.43L609.00,204.43L609.50,204.44L610.00,204.44L610.50,204.44L611.00,204.45L611.50,204.45L612.00,204.45L612.50,204.45L613.00,204.46L613.50,204.46L614.00,204.46L614.50,204.46L615.00,204.47L615.50,204.47L616.00,204.47L616.50,204.47L617.00,204.47L617.50,204.47L618.00,204.48L618.50,204.48L619.00,204.48L619.50,204.48L620.00,204.48L620.50,204.48L621.00,204.49L621.50,204.49L622.00,204.49L622.50,204.49L623.00,204.49L623.50,204.49L624.00,204.49L624.50,204.49L625.00,204.49L625.50,204.49L626.00,204.49L626.50,204.50L627.00,204.50L627.50,204.50L628.00,204.50L628.50,204.50L629.00,204.50L629.50,204.50L630.00,204.50L630.50,204.50L631.00,204.50L631.50,204.50L632.00,204.50L632.50,204.50L633.00,204.50L633.50,204.50L634.00,204.50" fill="none" stroke="#3346a8" stroke-width="3.0" stroke-linejoin="round" stroke-linecap="butt" stroke-dasharray="6.5 3 2 2.5" />
<path d="M349.00,325.00L349.50,325.00L350.00,325.00L350.50,325.00L351.00,325.00L351.50,325.00L352.00,325.00L352.50,325.00L353.00,325.00L353.50,325.00L354.00,325.00L354.50,325.00L355.00,325.00L355.50,325.00L356.00,325.00L356.50,325.00L357.00,325.00L357.50,325.00L358.00,325.00L358.50,325.00L359.00,325.00L359.50,325.00L360.00,325.00L360.50,325.00L361.00,325.00L361.50,325.00L362.00,325.00L362.50,325.00L363.00,325.00L363.50,325.00L364.00,325.00L364.50,325.00L365.00,325.00L365.50,325.00L366.00,325.00L366.50,325.00L367.00,325.00L367.50,325.00L368.00,325.00L368.50,325.00L369.00,325.00L369.50,325.00L370.00,325.00L370.50,325.00L371.00,325.00L371.50,324.98L372.00,324.91L372.50,324.80L373.00,324.67L373.50,324.51L374.00,324.33L374.50,324.15L375.00,323.96L375.50,323.72L376.00,323.41L376.50,323.04L377.00,322.63L377.50,322.18L378.00,321.69L378.50,321.19L379.00,320.68L379.50,320.17L380.00,319.68L380.50,319.20L381.00,318.76L381.50,318.35L382.00,318.00L382.50,317.67L383.00,317.33L383.50,316.98L384.00,316.63L384.50,316.28L385.00,315.93L385.50,315.59L386.00,315.27L386.50,314.96L387.00,314.66L387.50,314.40L388.00,314.16L388.50,313.95L389.00,313.78L389.50,313.64L390.00,313.55L390.50,313.50L391.00,313.53L391.50,313.70L392.00,314.01L392.50,314.44L393.00,314.96L393.50,315.54L394.00,316.18L394.50,316.85L395.00,317.52L395.50,318.18L396.00,318.80L396.50,319.36L397.00,319.84L397.50,320.23L398.00,320.48L398.50,320.60L399.00,320.38L399.50,319.52L400.00,318.14L400.50,316.34L401.00,314.23L401.50,311.94L402.00,309.56L402.50,307.21L403.00,305.00L403.50,302.67L404.00,299.99L404.50,297.19L405.00,294.45L405.50,291.99L406.00,290.00L406.50,288.30L407.00,286.59L407.50,284.91L408.00,283.32L408.50,281.85L409.00,280.56L409.50,279.50L410.00,278.70L410.50,278.22L411.00,278.11L411.50,278.54L412.00,279.42L412.50,280.59L413.00,281.86L413.50,283.06L414.00,284.00L414.50,284.68L415.00,285.24L415.50,285.74L416.00,286.23L416.50,286.77L417.00,287.42L417.50,288.22L418.00,289.33L418.50,291.06L419.00,293.23L419.50,295.62L420.00,298.00L420.50,300.55L421.00,303.40L421.50,306.24L422.00,308.75L422.50,310.78L423.00,312.74L423.50,314.63L424.00,316.40L424.50,318.01L425.00,319.39L425.50,320.50L426.00,321.29L426.50,321.82L427.00,322.31L427.50,322.78L428.00,323.21L428.50,323.60L429.00,323.95L429.50,324.25L430.00,324.51L430.50,324.72L431.00,324.87L431.50,324.97L432.00,325.00L432.50,325.00L433.00,325.01L433.50,325.01L434.00,325.01L434.50,325.01L435.00,325.02L435.50,325.02L436.00,325.02L436.50,325.03L437.00,325.03L437.50,325.03L438.00,325.03L438.50,325.04L439.00,325.04L439.50,325.04L440.00,325.04L440.50,325.05L441.00,325.05L441.50,325.05L442.00,325.05L442.50,325.06L443.00,325.06L443.50,325.06L444.00,325.06L444.50,325.06L445.00,325.07L445.50,325.07L446.00,325.07L446.50,325.07L447.00,325.08L447.50,325.08L448.00,325.08L448.50,325.08L449.00,325.08L449.50,325.09L450.00,325.09L450.50,325.09L451.00,325.09L451.50,325.09L452.00,325.10L452.50,325.10L453.00,325.10L453.50,325.10L454.00,325.10L454.50,325.10L455.00,325.11L455.50,325.11L456.00,325.11L456.50,325.11L457.00,325.11L457.50,325.11L458.00,325.12L458.50,325.12L459.00,325.12L459.50,325.12L460.00,325.12L460.50,325.12L461.00,325.13L461.50,325.13L462.00,325.13L462.50,325.13L463.00,325.13L463.50,325.13L464.00,325.13L464.50,325.14L465.00,325.14L465.50,325.14L466.00,325.14L466.50,325.14L467.00,325.14L467.50,325.14L468.00,325.14L468.50,325.15L469.00,325.15L469.50,325.15L470.00,325.15L470.50,325.15L471.00,325.15L471.50,325.15L472.00,325.15L472.50,325.16L473.00,325.16L473.50,325.16L474.00,325.16L474.50,325.16L475.00,325.16L475.50,325.16L476.00,325.16L476.50,325.16L477.00,325.16L477.50,325.17L478.00,325.17L478.50,325.17L479.00,325.17L479.50,325.17L480.00,325.17L480.50,325.17L481.00,325.17L481.50,325.17L482.00,325.17L482.50,325.17L483.00,325.17L483.50,325.18L484.00,325.18L484.50,325.18L485.00,325.18L485.50,325.18L486.00,325.18L486.50,325.18L487.00,325.18L487.50,325.18L488.00,325.18L488.50,325.18L489.00,325.18L489.50,325.18L490.00,325.18L490.50,325.18L491.00,325.18L491.50,325.19L492.00,325.19L492.50,325.19L493.00,325.19L493.50,325.19L494.00,325.19L494.50,325.19L495.00,325.19L495.50,325.19L496.00,325.19L496.50,325.19L497.00,325.19L497.50,325.19L498.00,325.19L498.50,325.19L499.00,325.19L499.50,325.19L500.00,325.19L500.50,325.19L501.00,325.19L501.50,325.19L502.00,325.19L502.50,325.19L503.00,325.19L503.50,325.19L504.00,325.19L504.50,325.20L505.00,325.20L505.50,325.20L506.00,325.20L506.50,325.20L507.00,325.20L507.50,325.20L508.00,325.20L508.50,325.20L509.00,325.20L509.50,325.20L510.00,325.20L510.50,325.20L511.00,325.20L511.50,325.20L512.00,325.20L512.50,325.20L513.00,325.20L513.50,325.20L514.00,325.20L514.50,325.20L515.00,325.20L515.50,325.20L516.00,325.20L516.50,325.20L517.00,325.20L517.50,325.20L518.00,325.20L518.50,325.20L519.00,325.20L519.50,325.20L520.00,325.20L520.50,325.20L521.00,325.20L521.50,325.20L522.00,325.20L522.50,325.20L523.00,325.20L523.50,325.20L524.00,325.20L524.50,325.20L525.00,325.20L525.50,325.20L526.00,325.20L526.50,325.20L527.00,325.20L527.50,325.20L528.00,325.20L528.50,325.20L529.00,325.20L529.50,325.15L530.00,325.02L530.50,324.81L531.00,324.53L531.50,324.20L532.00,323.84L532.50,323.44L533.00,323.02L533.50,322.48L534.00,321.80L534.50,320.99L535.00,320.04L535.50,318.97L536.00,317.77L536.50,316.46L537.00,315.03L537.50,313.49L538.00,311.85L538.50,310.11L539.00,308.28L539.50,306.15L540.00,303.37L540.50,300.03L541.00,296.21L541.50,292.02L542.00,287.55L542.50,282.89L543.00,278.15L543.50,273.42L544.00,268.80L544.50,264.26L545.00,259.43L545.50,254.34L546.00,249.07L546.50,243.71L547.00,238.35L547.50,233.06L548.00,227.94L548.50,223.07L549.00,218.53L549.50,214.34L550.00,210.00L550.50,205.47L551.00,200.87L551.50,196.31L552.00,191.93L552.50,187.83L553.00,184.14L553.50,180.97L554.00,178.44L554.50,176.67L555.00,175.78L555.50,175.81L556.00,176.40L556.50,177.34L557.00,178.45L557.50,179.54L558.00,180.44L558.50,180.98L559.00,181.35L559.50,181.65L560.00,181.88L560.50,182.09L561.00,182.28L561.50,182.51L562.00,182.77L562.50,183.12L563.00,183.56L563.50,184.15L564.00,185.83L564.50,188.83L565.00,192.86L565.50,197.66L566.00,202.94L566.50,208.45L567.00,213.90L567.50,219.32L568.00,225.64L568.50,232.67L569.00,240.09L569.50,247.56L570.00,254.75L570.50,261.34L571.00,267.00L571.50,272.12L572.00,277.25L572.50,282.30L573.00,287.18L573.50,291.79L574.00,296.04L574.50,299.84L575.00,303.10L575.50,305.72L576.00,307.62L576.50,308.94L577.00,310.19L577.50,311.36L578.00,312.47L578.50,313.52L579.00,314.50L579.50,315.43L580.00,316.29L580.50,317.10L581.00,317.85L581.50,318.55L582.00,319.19L582.50,319.78L583.00,320.31L583.50,320.80L584.00,321.25L584.50,321.64L585.00,321.99L585.50,322.30L586.00,322.56L586.50,322.79L587.00,323.00L587.50,323.21L588.00,323.41L588.50,323.61L589.00,323.79L589.50,323.97L590.00,324.13L590.50,324.28L591.00,324.42L591.50,324.55L592.00,324.67L592.50,324.76L593.00,324.85L593.50,324.91L594.00,324.96L594.50,324.99L595.00,325.00L595.50,325.00L596.00,325.00L596.50,325.00L597.00,325.00L597.50,325.00L598.00,325.00L598.50,325.00L599.00,325.00L599.50,325.00L600.00,325.00L600.50,325.00L601.00,325.00L601.50,325.00L602.00,325.00L602.50,325.00L603.00,325.00L603.50,325.00L604.00,325.00L604.50,325.00L605.00,325.00L605.50,325.00L606.00,325.00L606.50,325.00L607.00,325.00L607.50,325.00L608.00,325.00L608.50,325.00L609.00,325.00L609.50,325.00L610.00,325.00L610.50,325.00L611.00,325.00L611.50,325.00L612.00,325.00L612.50,325.00L613.00,325.00L613.50,325.00L614.00,325.00L614.50,325.00L615.00,325.00L615.50,325.00L616.00,325.00L616.50,325.00L617.00,325.00L617.50,325.00L618.00,325.00L618.50,325.00L619.00,325.00L619.50,325.00L620.00,325.00L620.50,325.00L621.00,325.00L621.50,325.00L622.00,325.00L622.50,325.00L623.00,325.00L623.50,325.00L624.00,325.00L624.50,325.00L625.00,325.00L625.50,325.00L626.00,325.00L626.50,325.00L627.00,325.00L627.50,325.00L628.00,325.00L628.50,325.00L629.00,325.00L629.50,325.00L630.00,325.00L630.50,325.00L631.00,325.00L631.50,325.00L632.00,325.00L632.50,325.00L633.00,325.00L633.50,325.00L634.00,325.00" fill="none" stroke="#16823a" stroke-width="2.7" stroke-linejoin="round" stroke-linecap="round" stroke-dasharray="0.01 4.5" />
<path d="M651.00,203.52L651.50,203.46L652.00,203.39L652.50,203.33L653.00,203.27L653.50,203.21L654.00,203.33L654.50,203.46L655.00,203.59L655.50,203.72L656.00,203.85L656.50,203.93L657.00,204.01L657.50,204.09L658.00,204.17L658.50,204.25L659.00,204.34L659.50,204.42L660.00,204.51L660.50,204.60L661.00,204.68L661.50,204.56L662.00,204.44L662.50,204.31L663.00,204.19L663.50,204.07L664.00,203.99L664.50,203.91L665.00,203.83L665.50,203.75L666.00,203.67L666.50,203.64L667.00,203.61L667.50,203.58L668.00,203.56L668.50,203.53L669.00,203.71L669.50,203.90L670.00,204.08L670.50,204.27L671.00,204.45L671.50,204.56L672.00,204.66L672.50,204.77L673.00,204.87L673.50,204.98L674.00,204.82L674.50,204.65L675.00,204.49L675.50,204.33L676.00,204.16L676.50,203.98L677.00,203.80L677.50,203.62L678.00,203.44L678.50,203.26L679.00,203.29L679.50,203.33L680.00,203.36L680.50,203.39L681.00,203.43L681.50,203.73L682.00,204.04L682.50,204.35L683.00,204.65L683.50,204.96L684.00,204.79L684.50,204.62L685.00,204.46L685.50,204.29L686.00,204.12L686.50,203.89L687.00,203.66L687.50,203.43L688.00,203.19L688.50,202.96L689.00,203.16L689.50,203.36L690.00,203.55L690.50,203.75L691.00,203.95L691.50,203.82L692.00,203.69L692.50,203.51L693.00,203.23L693.50,202.83L694.00,202.51L694.50,202.06L695.00,201.47L695.50,200.75L696.00,199.88L696.50,198.61L697.00,191.75L697.50,180.65L698.00,170.32L698.50,163.25L699.00,156.58L699.50,150.46L700.00,145.10L700.50,140.72L701.00,137.30L701.50,134.20L702.00,131.25L702.50,128.52L703.00,126.11L703.50,124.11L704.00,122.39L704.50,121.26L705.00,120.81L705.50,120.89L706.00,121.25L706.50,121.85L707.00,122.63L707.50,123.55L708.00,124.54L708.50,125.57L709.00,126.77L709.50,128.24L710.00,130.19L710.50,132.38L711.00,134.61L711.50,136.59L712.00,138.17L712.50,139.13L713.00,139.30L713.50,138.83L714.00,137.59L714.50,136.11L715.00,134.57L715.50,133.15L716.00,132.01L716.50,131.53L717.00,131.04L717.50,130.60L718.00,130.28L718.50,130.13L719.00,129.98L719.50,130.50L720.00,131.63L720.50,133.05L721.00,134.41L721.50,135.85L722.00,137.36L722.50,138.96L723.00,140.67L723.50,142.51L724.00,144.26L724.50,146.23L725.00,148.45L725.50,150.90L726.00,153.54L726.50,156.63L727.00,159.83L727.50,163.11L728.00,166.42L728.50,169.76L729.00,173.35L729.50,177.35L730.00,181.48L730.50,185.48L731.00,189.07L731.50,191.94L732.00,193.94L732.50,195.66L733.00,197.23L733.50,198.62L734.00,199.75L734.50,200.65L735.00,201.27L735.50,201.61L736.00,201.87L736.50,202.27L737.00,202.64L737.50,202.97L738.00,203.27L738.50,203.52L739.00,203.57L739.50,203.57L740.00,203.51L740.50,203.43L741.00,203.35L741.50,203.32L742.00,203.30L742.50,203.27L743.00,203.24L743.50,203.21L744.00,203.41L744.50,203.60L745.00,203.79L745.50,203.98L746.00,204.18L746.50,204.02L747.00,203.86L747.50,203.71L748.00,203.55L748.50,203.39L749.00,203.67L749.50,203.95L750.00,204.22L750.50,204.50L751.00,204.78L751.50,204.72L752.00,204.67L752.50,204.62L753.00,204.57L753.50,204.52L754.00,204.20L754.50,203.87L755.00,203.55L755.50,203.23L756.00,202.90L756.50,203.18L757.00,203.45L757.50,203.73L758.00,204.01L758.50,204.28L759.00,204.12L759.50,203.96L760.00,203.79L760.50,203.63L761.00,203.47L761.50,203.61L762.00,203.75L762.50,203.88L763.00,204.02L763.50,204.16L764.00,204.17L764.50,204.17L765.00,204.17L765.50,204.18L766.00,204.18L766.50,203.94L767.00,203.70L767.50,203.46L768.00,203.21L768.50,202.97L769.00,203.18L769.50,203.40L770.00,203.61L770.50,203.82L771.00,204.04L771.50,204.04L772.00,204.03L772.50,204.03L773.00,204.03L773.50,204.03L774.00,204.18L774.50,204.33L775.00,204.48L775.50,204.62L776.00,204.77L776.50,204.52L777.00,204.26L777.50,204.01L778.00,203.75L778.50,203.50L779.00,203.73L779.50,203.96L780.00,204.19L780.50,204.42L781.00,204.66L781.50,204.44L782.00,204.22L782.50,204.00L783.00,203.78L783.50,203.56L784.00,203.65L784.50,203.75L785.00,203.84L785.50,203.94L786.00,204.03L786.50,203.97L787.00,203.91L787.50,203.85L788.00,203.79L788.50,203.73L789.00,204.01L789.50,204.28L790.00,204.56L790.50,204.83L791.00,205.11L791.50,205.01L792.00,204.90L792.50,204.80L793.00,204.69L793.50,204.59L794.00,204.81L794.50,205.04L795.00,205.26L795.50,205.49L796.00,205.71L796.50,205.50L797.00,205.28L797.50,205.07L798.00,204.86L798.50,204.64L799.00,204.67L799.50,204.69L800.00,204.72L800.50,204.74L801.00,204.77L801.50,204.77L802.00,204.77L802.50,204.77L803.00,204.77L803.50,204.77L804.00,204.60L804.50,204.43L805.00,204.25L805.50,204.08L806.00,203.91L806.50,203.97L807.00,204.04L807.50,204.10L808.00,204.17L808.50,204.23L809.00,204.40L809.50,204.58L810.00,204.75L810.50,204.92L811.00,205.09L811.50,204.88L812.00,204.67L812.50,204.46L813.00,204.25L813.50,204.04L814.00,204.11L814.50,204.19L815.00,204.26L815.50,204.33L816.00,204.40L816.50,204.37L817.00,204.35L817.50,204.32L818.00,204.30L818.50,204.27L819.00,204.35L819.50,204.43L820.00,204.50L820.50,204.58L821.00,204.65L821.50,204.54L822.00,204.42L822.50,204.31L823.00,204.19L823.50,204.07L824.00,204.10L824.50,204.12L825.00,204.15L825.50,204.18L826.00,204.20L826.50,204.25L827.00,204.30L827.50,204.34L828.00,204.39L828.50,204.44L829.00,204.42L829.50,204.41L830.00,204.39L830.50,204.37L831.00,204.36L831.50,204.24L832.00,204.13L832.50,204.01L833.00,203.89L833.50,203.78L834.00,203.99L834.50,204.20L835.00,204.41L835.50,204.62L836.00,204.83L836.50,204.57L837.00,204.31L837.50,204.05L838.00,203.78L838.50,203.52L839.00,203.53L839.50,203.54L840.00,203.55L840.50,203.57L841.00,203.58L841.50,203.57L842.00,203.56L842.50,203.55L843.00,203.54L843.50,203.53L844.00,203.80L844.50,204.07L845.00,204.34L845.50,204.61L846.00,204.88L846.50,204.72L847.00,204.56L847.50,204.40L848.00,204.24L848.50,204.08L849.00,204.01L849.50,203.94L850.00,203.86L850.50,203.79L851.00,203.72L851.50,203.70L852.00,203.68L852.50,203.66L853.00,203.64L853.50,203.62L854.00,203.81L854.50,203.99L855.00,204.18L855.50,204.37L856.00,204.55L856.50,204.26L857.00,203.74L857.50,203.03L858.00,202.14L858.50,201.10L859.00,200.09L859.50,198.97L860.00,197.77L860.50,196.39L861.00,194.35L861.50,191.91L862.00,188.91L862.50,185.44L863.00,181.56L863.50,177.37L864.00,172.49L864.50,167.46L865.00,162.35L865.50,157.16L866.00,151.18L866.50,144.77L867.00,137.85L867.50,130.65L868.00,123.43L868.50,116.42L869.00,109.80L869.50,103.61L870.00,97.45L870.50,91.38L871.00,85.49L871.50,79.76L872.00,74.37L872.50,69.36L873.00,63.92L873.50,58.44L874.00,53.99L874.50,51.48L875.00,52.08L875.50,56.22L876.00,62.14L876.50,68.05L877.00,72.19L877.50,75.88L878.00,79.55L878.50,83.14L879.00,86.18L879.50,88.97L880.00,91.45L880.50,93.53L881.00,95.14L881.50,96.33L882.00,96.90L882.50,97.19L883.00,97.40L883.50,97.54L884.00,97.66L884.50,97.76L885.00,97.85L885.50,97.95L886.00,98.09L886.50,98.55L887.00,99.09L887.50,99.69L888.00,100.36L888.50,101.10L889.00,101.71L889.50,102.43L890.00,103.27L890.50,104.25L891.00,105.37L891.50,106.76L892.00,108.32L892.50,110.93L893.00,115.81L893.50,121.94L894.00,128.08L894.50,133.32L895.00,137.26L895.50,140.85L896.00,144.18L896.50,147.42L897.00,150.56L897.50,153.67L898.00,156.81L898.50,160.08L899.00,163.60L899.50,167.33L900.00,171.11L900.50,174.79L901.00,178.20L901.50,181.24L902.00,183.70L902.50,185.48L903.00,187.05L903.50,188.52L904.00,189.97L904.50,191.32L905.00,192.58L905.50,193.74L906.00,194.80L906.50,195.60L907.00,196.30L907.50,196.88L908.00,197.35L908.50,197.70L909.00,198.09L909.50,198.45L910.00,198.80L910.50,199.12L911.00,199.43L911.50,199.89L912.00,200.32L912.50,200.74L913.00,201.15L913.50,201.55L914.00,201.54L914.50,201.53L915.00,201.51L915.50,201.48L916.00,201.44L916.50,201.32L917.00,201.19L917.50,201.06L918.00,200.93L918.50,200.79L919.00,201.29L919.50,201.79L920.00,202.28L920.50,202.76L921.00,203.23L921.50,203.14L922.00,203.04L922.50,202.94L923.00,202.84L923.50,202.74L924.00,202.65L924.50,202.57L925.00,202.49L925.50,202.41L926.00,202.34L926.50,202.66L927.00,202.98L927.50,203.31L928.00,203.64L928.50,203.97L929.00,203.99L929.50,204.00L930.00,204.02L930.50,204.05L931.00,204.07L931.50,204.14L932.00,204.20L932.50,204.27L933.00,204.34L933.50,204.42L934.00,204.57L934.50,204.73L935.00,204.89L935.50,205.05L936.00,205.22" fill="none" stroke="#3346a8" stroke-width="3.0" stroke-linejoin="round" stroke-linecap="butt" stroke-dasharray="6.5 3 2 2.5" />
<path d="M651.00,324.63L651.50,324.72L652.00,324.81L652.50,324.89L653.00,324.98L653.50,325.07L654.00,324.55L654.50,324.03L655.00,323.51L655.50,322.99L656.00,322.47L656.50,322.76L657.00,323.05L657.50,323.34L658.00,323.63L658.50,323.92L659.00,324.06L659.50,324.19L660.00,324.33L660.50,324.47L661.00,324.61L661.50,324.65L662.00,324.69L662.50,324.73L663.00,324.77L663.50,324.81L664.00,324.73L664.50,324.64L665.00,324.56L665.50,324.48L666.00,324.39L666.50,324.49L667.00,324.59L667.50,324.70L668.00,324.80L668.50,324.90L669.00,324.75L669.50,324.61L670.00,324.46L670.50,324.32L671.00,324.17L671.50,324.21L672.00,324.24L672.50,324.27L673.00,324.30L673.50,324.33L674.00,324.29L674.50,324.24L675.00,324.20L675.50,324.15L676.00,324.11L676.50,323.96L677.00,323.81L677.50,323.66L678.00,323.51L678.50,323.36L679.00,323.38L679.50,323.41L680.00,323.44L680.50,323.46L681.00,323.49L681.50,323.64L682.00,323.79L682.50,323.93L683.00,324.08L683.50,324.23L684.00,324.11L684.50,324.00L685.00,323.88L685.50,323.77L686.00,323.65L686.50,323.87L687.00,324.10L687.50,324.32L688.00,324.54L688.50,324.76L689.00,324.77L689.50,324.77L690.00,324.77L690.50,324.77L691.00,324.78L691.50,324.84L692.00,324.90L692.50,324.86L693.00,324.63L693.50,324.20L694.00,323.31L694.50,322.22L695.00,320.94L695.50,319.48L696.00,315.77L696.50,307.22L697.00,295.51L697.50,282.91L698.00,271.66L698.50,261.33L699.00,250.08L699.50,239.14L700.00,229.32L700.50,221.33L701.00,213.90L701.50,206.78L702.00,200.09L702.50,194.21L703.00,189.52L703.50,186.43L704.00,185.42L704.50,185.90L705.00,187.06L705.50,188.77L706.00,190.90L706.50,193.25L707.00,195.77L707.50,198.36L708.00,200.87L708.50,203.19L709.00,204.94L709.50,206.61L710.00,208.45L710.50,210.39L711.00,212.37L711.50,214.53L712.00,216.60L712.50,218.49L713.00,220.15L713.50,221.51L714.00,222.76L714.50,223.57L715.00,223.86L715.50,223.54L716.00,222.73L716.50,221.16L717.00,219.39L717.50,217.57L718.00,215.83L718.50,214.32L719.00,213.60L719.50,213.39L720.00,213.88L720.50,215.10L721.00,216.94L721.50,218.95L722.00,221.35L722.50,224.06L723.00,226.94L723.50,229.90L724.00,232.91L724.50,235.78L725.00,238.67L725.50,241.69L726.00,244.89L726.50,248.28L727.00,251.89L727.50,255.75L728.00,259.88L728.50,264.33L729.00,269.19L729.50,274.94L730.00,283.01L730.50,292.03L731.00,300.37L731.50,306.16L732.00,308.83L732.50,310.88L733.00,312.67L733.50,314.22L734.00,315.82L734.50,317.21L735.00,318.42L735.50,319.46L736.00,320.34L736.50,320.76L737.00,321.10L737.50,321.43L738.00,321.72L738.50,321.98L739.00,322.43L739.50,322.84L740.00,323.19L740.50,323.48L741.00,323.71L741.50,323.77L742.00,323.76L742.50,323.70L743.00,323.65L743.50,323.59L744.00,323.75L744.50,323.90L745.00,324.05L745.50,324.21L746.00,324.36L746.50,324.29L747.00,324.22L747.50,324.16L748.00,324.09L748.50,324.02L749.00,323.91L749.50,323.81L750.00,323.70L750.50,323.59L751.00,323.48L751.50,323.83L752.00,324.17L752.50,324.51L753.00,324.86L753.50,325.20L754.00,324.92L754.50,324.63L755.00,324.35L755.50,324.06L756.00,323.78L756.50,323.81L757.00,323.84L757.50,323.87L758.00,323.90L758.50,323.93L759.00,323.99L759.50,324.05L760.00,324.11L760.50,324.17L761.00,324.23L761.50,324.39L762.00,324.56L762.50,324.72L763.00,324.88L763.50,325.04L764.00,324.82L764.50,324.59L765.00,324.36L765.50,324.13L766.00,323.90L766.50,324.01L767.00,324.11L767.50,324.21L768.00,324.31L768.50,324.41L769.00,324.34L769.50,324.27L770.00,324.19L770.50,324.12L771.00,324.05L771.50,323.86L772.00,323.67L772.50,323.48L773.00,323.30L773.50,323.11L774.00,323.38L774.50,323.65L775.00,323.92L775.50,324.19L776.00,324.46L776.50,324.48L777.00,324.51L777.50,324.54L778.00,324.57L778.50,324.59L779.00,324.44L779.50,324.29L780.00,324.14L780.50,323.98L781.00,323.83L781.50,323.86L782.00,323.88L782.50,323.91L783.00,323.94L783.50,323.96L784.00,323.78L784.50,323.60L785.00,323.42L785.50,323.24L786.00,323.07L786.50,323.06L787.00,323.06L787.50,323.05L788.00,323.05L788.50,323.05L789.00,323.18L789.50,323.32L790.00,323.45L790.50,323.58L791.00,323.72L791.50,323.84L792.00,323.96L792.50,324.08L793.00,324.20L793.50,324.32L794.00,324.19L794.50,324.06L795.00,323.92L795.50,323.79L796.00,323.66L796.50,323.75L797.00,323.84L797.50,323.93L798.00,324.02L798.50,324.11L799.00,324.19L799.50,324.27L800.00,324.35L800.50,324.43L801.00,324.50L801.50,324.40L802.00,324.29L802.50,324.19L803.00,324.08L803.50,323.97L804.00,324.03L804.50,324.08L805.00,324.14L805.50,324.19L806.00,324.25L806.50,324.35L807.00,324.45L807.50,324.56L808.00,324.66L808.50,324.76L809.00,324.44L809.50,324.11L810.00,323.79L810.50,323.46L811.00,323.13L811.50,323.37L812.00,323.61L812.50,323.84L813.00,324.08L813.50,324.32L814.00,324.00L814.50,323.68L815.00,323.36L815.50,323.04L816.00,322.73L816.50,323.00L817.00,323.28L817.50,323.55L818.00,323.83L818.50,324.10L819.00,324.07L819.50,324.04L820.00,324.01L820.50,323.98L821.00,323.95L821.50,323.86L822.00,323.76L822.50,323.67L823.00,323.58L823.50,323.49L824.00,323.42L824.50,323.35L825.00,323.28L825.50,323.22L826.00,323.15L826.50,323.27L827.00,323.39L827.50,323.50L828.00,323.62L828.50,323.74L829.00,323.70L829.50,323.65L830.00,323.60L830.50,323.56L831.00,323.51L831.50,323.57L832.00,323.63L832.50,323.68L833.00,323.74L833.50,323.80L834.00,323.67L834.50,323.55L835.00,323.42L835.50,323.30L836.00,323.17L836.50,323.34L837.00,323.51L837.50,323.68L838.00,323.85L838.50,324.02L839.00,323.83L839.50,323.64L840.00,323.44L840.50,323.25L841.00,323.05L841.50,323.14L842.00,323.22L842.50,323.30L843.00,323.38L843.50,323.47L844.00,323.45L844.50,323.44L845.00,323.42L845.50,323.41L846.00,323.39L846.50,323.58L847.00,323.78L847.50,323.97L848.00,324.17L848.50,324.36L849.00,324.02L849.50,323.69L850.00,323.35L850.50,323.01L851.00,322.67L851.50,322.80L852.00,322.92L852.50,323.05L853.00,323.17L853.50,323.29L854.00,323.48L854.50,323.67L855.00,323.85L855.50,324.04L856.00,324.22L856.50,323.99L857.00,323.77L857.50,323.48L858.00,323.07L858.50,322.55L859.00,322.07L859.50,321.49L860.00,320.83L860.50,320.08L861.00,319.25L861.50,318.61L862.00,317.59L862.50,315.64L863.00,312.89L863.50,309.52L864.00,305.43L864.50,301.05L865.00,296.54L865.50,292.06L866.00,287.70L866.50,283.17L867.00,278.23L867.50,273.06L868.00,267.80L868.50,262.61L869.00,257.28L869.50,251.92L870.00,246.46L870.50,241.04L871.00,235.79L871.50,231.18L872.00,227.01L872.50,223.01L873.00,218.73L873.50,214.67L874.00,211.32L874.50,209.31L875.00,209.14L875.50,210.74L876.00,213.58L876.50,217.09L877.00,220.76L877.50,224.19L878.00,228.23L878.50,232.79L879.00,237.18L879.50,241.31L880.00,244.78L880.50,247.19L881.00,248.92L881.50,251.08L882.00,253.04L882.50,254.70L883.00,255.99L883.50,256.81L884.00,256.68L884.50,256.51L885.00,256.32L885.50,256.10L886.00,255.87L886.50,255.83L887.00,255.79L887.50,255.74L888.00,255.70L888.50,255.66L889.00,255.77L889.50,255.90L890.00,256.05L890.50,256.23L891.00,256.43L891.50,257.44L892.00,259.67L892.50,262.78L893.00,266.41L893.50,270.21L894.00,273.66L894.50,276.81L895.00,280.31L895.50,284.02L896.00,287.71L896.50,291.30L897.00,294.41L897.50,296.87L898.00,299.10L898.50,301.23L899.00,303.15L899.50,304.96L900.00,306.64L900.50,308.19L901.00,309.59L901.50,310.81L902.00,311.87L902.50,312.77L903.00,313.54L903.50,314.27L904.00,314.92L904.50,315.54L905.00,316.12L905.50,316.67L906.00,317.18L906.50,317.98L907.00,318.74L907.50,319.46L908.00,320.15L908.50,320.81L909.00,320.69L909.50,320.54L910.00,320.35L910.50,320.13L911.00,319.87L911.50,320.13L912.00,320.38L912.50,320.62L913.00,320.86L913.50,321.08L914.00,321.39L914.50,321.69L915.00,321.98L915.50,322.26L916.00,322.53L916.50,322.56L917.00,322.57L917.50,322.58L918.00,322.58L918.50,322.57L919.00,322.48L919.50,322.39L920.00,322.28L920.50,322.17L921.00,322.05L921.50,322.31L922.00,322.56L922.50,322.81L923.00,323.06L923.50,323.31L924.00,323.35L924.50,323.40L925.00,323.44L925.50,323.47L926.00,323.51L926.50,323.34L927.00,323.17L927.50,322.99L928.00,322.81L928.50,322.63L929.00,323.06L929.50,323.48L930.00,323.89L930.50,324.31L931.00,324.73L931.50,324.79L932.00,324.86L932.50,324.93L933.00,324.99L933.50,325.06L934.00,325.06L934.50,325.06L935.00,325.05L935.50,325.05L936.00,325.04" fill="none" stroke="#16823a" stroke-width="2.7" stroke-linejoin="round" stroke-linecap="round" stroke-dasharray="0.01 4.5" />
<path d="M651.00,444.00L651.50,444.04L652.00,444.07L652.50,444.11L653.00,444.14L653.50,444.18L654.00,444.11L654.50,444.04L655.00,443.97L655.50,443.90L656.00,443.84L656.50,443.76L657.00,443.69L657.50,443.61L658.00,443.54L658.50,443.47L659.00,443.52L659.50,443.57L660.00,443.62L660.50,443.67L661.00,443.73L661.50,443.66L662.00,443.60L662.50,443.53L663.00,443.47L663.50,443.41L664.00,443.53L664.50,443.66L665.00,443.78L665.50,443.91L666.00,444.04L666.50,444.19L667.00,444.34L667.50,444.50L668.00,444.65L668.50,444.80L669.00,444.58L669.50,444.36L670.00,444.14L670.50,443.92L671.00,443.70L671.50,443.69L672.00,443.67L672.50,443.66L673.00,443.64L673.50,443.63L674.00,443.76L674.50,443.89L675.00,444.03L675.50,444.16L676.00,444.29L676.50,444.28L677.00,444.26L677.50,444.25L678.00,444.23L678.50,444.21L679.00,444.18L679.50,444.15L680.00,444.12L680.50,444.09L681.00,444.06L681.50,443.94L682.00,443.81L682.50,443.69L683.00,443.57L683.50,443.44L684.00,443.55L684.50,443.66L685.00,443.77L685.50,443.87L686.00,443.98L686.50,444.07L687.00,444.16L687.50,444.24L688.00,444.33L688.50,444.42L689.00,444.17L689.50,443.93L690.00,443.68L690.50,443.41L691.00,443.08L691.50,443.04L692.00,442.94L692.50,442.78L693.00,442.56L693.50,442.28L694.00,441.65L694.50,440.79L695.00,438.35L695.50,434.63L696.00,430.33L696.50,426.43L697.00,422.62L697.50,418.44L698.00,414.07L698.50,409.66L699.00,405.23L699.50,401.09L700.00,397.14L700.50,393.25L701.00,389.54L701.50,386.39L702.00,383.59L702.50,380.60L703.00,377.78L703.50,375.74L704.00,374.74L704.50,374.77L705.00,375.09L705.50,375.65L706.00,376.41L706.50,377.64L707.00,378.98L707.50,380.39L708.00,381.83L708.50,383.26L709.00,384.43L709.50,385.50L710.00,386.42L710.50,387.34L711.00,388.35L711.50,389.36L712.00,390.31L712.50,391.14L713.00,391.77L713.50,392.12L714.00,391.90L714.50,391.57L715.00,391.19L715.50,390.78L716.00,390.33L716.50,390.39L717.00,390.44L717.50,390.49L718.00,390.56L718.50,390.66L719.00,390.61L719.50,390.61L720.00,390.71L720.50,391.34L721.00,392.51L721.50,394.06L722.00,395.91L722.50,397.94L723.00,400.03L723.50,402.07L724.00,404.11L724.50,406.63L725.00,409.45L725.50,412.41L726.00,415.33L726.50,418.37L727.00,421.05L727.50,423.24L728.00,425.27L728.50,427.21L729.00,428.88L729.50,430.43L730.00,431.87L730.50,433.17L731.00,434.32L731.50,435.39L732.00,436.29L732.50,437.14L733.00,437.96L733.50,438.74L734.00,439.67L734.50,440.54L735.00,441.34L735.50,442.06L736.00,442.70L736.50,442.80L737.00,442.79L737.50,442.72L738.00,442.65L738.50,442.56L739.00,442.79L739.50,443.01L740.00,443.21L740.50,443.41L741.00,443.60L741.50,443.80L742.00,443.98L742.50,444.16L743.00,444.32L743.50,444.47L744.00,444.33L744.50,444.17L745.00,444.00L745.50,443.83L746.00,443.65L746.50,443.71L747.00,443.76L747.50,443.82L748.00,443.88L748.50,443.93L749.00,443.96L749.50,443.99L750.00,444.01L750.50,444.04L751.00,444.07L751.50,444.06L752.00,444.05L752.50,444.05L753.00,444.04L753.50,444.04L754.00,443.88L754.50,443.73L755.00,443.57L755.50,443.42L756.00,443.26L756.50,443.42L757.00,443.57L757.50,443.73L758.00,443.88L758.50,444.04L759.00,444.19L759.50,444.35L760.00,444.50L760.50,444.65L761.00,444.81L761.50,444.46L762.00,444.11L762.50,443.76L763.00,443.41L763.50,443.06L764.00,443.35L764.50,443.63L765.00,443.92L765.50,444.21L766.00,444.50L766.50,444.41L767.00,444.32L767.50,444.23L768.00,444.14L768.50,444.05L769.00,443.96L769.50,443.86L770.00,443.77L770.50,443.68L771.00,443.58L771.50,443.90L772.00,444.22L772.50,444.53L773.00,444.85L773.50,445.16L774.00,445.01L774.50,444.86L775.00,444.71L775.50,444.56L776.00,444.41L776.50,444.17L777.00,443.93L777.50,443.70L778.00,443.46L778.50,443.22L779.00,443.37L779.50,443.52L780.00,443.67L780.50,443.82L781.00,443.97L781.50,444.03L782.00,444.09L782.50,444.15L783.00,444.20L783.50,444.26L784.00,444.17L784.50,444.07L785.00,443.98L785.50,443.88L786.00,443.79L786.50,443.89L787.00,443.99L787.50,444.09L788.00,444.19L788.50,444.29L789.00,444.20L789.50,444.10L790.00,444.01L790.50,443.92L791.00,443.82L791.50,443.91L792.00,443.99L792.50,444.07L793.00,444.16L793.50,444.24L794.00,444.33L794.50,444.42L795.00,444.51L795.50,444.59L796.00,444.68L796.50,444.42L797.00,444.16L797.50,443.91L798.00,443.65L798.50,443.39L799.00,443.49L799.50,443.59L800.00,443.69L800.50,443.79L801.00,443.89L801.50,443.80L802.00,443.72L802.50,443.63L803.00,443.54L803.50,443.46L804.00,443.52L804.50,443.59L805.00,443.65L805.50,443.72L806.00,443.78L806.50,443.62L807.00,443.45L807.50,443.29L808.00,443.12L808.50,442.96L809.00,443.02L809.50,443.09L810.00,443.15L810.50,443.22L811.00,443.29L811.50,443.32L812.00,443.36L812.50,443.40L813.00,443.44L813.50,443.48L814.00,443.60L814.50,443.72L815.00,443.84L815.50,443.97L816.00,444.09L816.50,444.11L817.00,444.13L817.50,444.15L818.00,444.17L818.50,444.19L819.00,443.89L819.50,443.58L820.00,443.27L820.50,442.97L821.00,442.66L821.50,442.72L822.00,442.77L822.50,442.82L823.00,442.88L823.50,442.93L824.00,443.09L824.50,443.25L825.00,443.42L825.50,443.58L826.00,443.74L826.50,443.41L827.00,443.08L827.50,442.75L828.00,442.43L828.50,442.10L829.00,442.27L829.50,442.44L830.00,442.61L830.50,442.78L831.00,442.95L831.50,442.99L832.00,443.02L832.50,443.05L833.00,443.08L833.50,443.11L834.00,443.26L834.50,443.41L835.00,443.56L835.50,443.71L836.00,443.85L836.50,443.77L837.00,443.69L837.50,443.61L838.00,443.52L838.50,443.44L839.00,443.31L839.50,443.17L840.00,443.03L840.50,442.89L841.00,442.76L841.50,442.74L842.00,442.72L842.50,442.70L843.00,442.67L843.50,442.65L844.00,442.65L844.50,442.65L845.00,442.65L845.50,442.64L846.00,442.64L846.50,442.84L847.00,443.03L847.50,443.23L848.00,443.42L848.50,443.62L849.00,443.37L849.50,443.11L850.00,442.86L850.50,442.61L851.00,442.36L851.50,442.35L852.00,442.35L852.50,442.35L853.00,442.34L853.50,442.34L854.00,442.40L854.50,442.34L855.00,442.09L855.50,441.65L856.00,441.05L856.50,440.18L857.00,439.20L857.50,438.13L858.00,437.00L858.50,435.67L859.00,433.90L859.50,431.68L860.00,429.08L860.50,426.18L861.00,423.03L861.50,419.60L862.00,416.05L862.50,412.35L863.00,408.13L863.50,403.43L864.00,398.58L864.50,393.41L865.00,388.02L865.50,382.48L866.00,376.88L866.50,370.95L867.00,364.34L867.50,357.23L868.00,349.86L868.50,342.50L869.00,335.65L869.50,329.33L870.00,323.78L870.50,319.14L871.00,314.52L871.50,309.62L872.00,304.92L872.50,300.65L873.00,297.05L873.50,294.36L874.00,292.77L874.50,292.64L875.00,294.68L875.50,298.41L876.00,303.08L876.50,308.10L877.00,312.55L877.50,316.78L878.00,321.45L878.50,326.32L879.00,330.95L879.50,335.32L880.00,339.17L880.50,342.27L881.00,344.39L881.50,345.92L882.00,347.20L882.50,348.30L883.00,349.24L883.50,350.07L884.00,350.53L884.50,350.94L885.00,351.35L885.50,351.79L886.00,352.30L886.50,353.10L887.00,354.05L887.50,355.18L888.00,356.54L888.50,358.33L889.00,360.25L889.50,362.53L890.00,365.08L890.50,367.85L891.00,370.75L891.50,374.15L892.00,377.57L892.50,381.44L893.00,385.82L893.50,390.52L894.00,394.88L894.50,399.13L895.00,403.07L895.50,406.50L896.00,409.23L896.50,411.84L897.00,414.37L897.50,416.80L898.00,419.11L898.50,421.27L899.00,423.52L899.50,425.59L900.00,427.45L900.50,429.08L901.00,430.47L901.50,431.31L902.00,432.04L902.50,432.72L903.00,433.36L903.50,433.96L904.00,434.71L904.50,435.42L905.00,436.10L905.50,436.73L906.00,437.33L906.50,438.01L907.00,438.65L907.50,439.26L908.00,439.83L908.50,440.37L909.00,440.26L909.50,440.11L910.00,439.94L910.50,439.76L911.00,439.58L911.50,439.78L912.00,439.97L912.50,440.15L913.00,440.33L913.50,440.50L914.00,440.73L914.50,440.96L915.00,441.18L915.50,441.40L916.00,441.60L916.50,441.74L917.00,441.87L917.50,442.00L918.00,442.12L918.50,442.24L919.00,442.24L919.50,442.23L920.00,442.22L920.50,442.20L921.00,442.18L921.50,442.24L922.00,442.30L922.50,442.36L923.00,442.42L923.50,442.48L924.00,442.65L924.50,442.81L925.00,442.98L925.50,443.14L926.00,443.31L926.50,443.34L927.00,443.37L927.50,443.40L928.00,443.42L928.50,443.45L929.00,443.30L929.50,443.16L930.00,443.01L930.50,442.86L931.00,442.71L931.50,442.85L932.00,443.00L932.50,443.14L933.00,443.27L933.50,443.41L934.00,443.44L934.50,443.46L935.00,443.49L935.50,443.51L936.00,443.52" fill="none" stroke="#ee1620" stroke-width="2.8" stroke-linejoin="round" stroke-linecap="butt" stroke-dasharray="4.3 1.9" />
<path d="M349.00,442.06L349.70,444.68L350.40,444.51L351.10,441.30L351.80,441.78L352.50,441.42L353.20,443.57L353.90,442.44L354.60,444.02L355.30,439.15L356.00,445.68L356.70,442.56L357.40,444.08L358.10,442.56L358.80,442.13L359.50,443.75L360.20,444.46L360.90,442.53L361.60,442.65L362.30,444.25L363.00,441.31L363.70,440.10L364.40,443.73L365.10,441.71L365.80,439.34L366.50,441.45L367.20,442.11L367.90,440.73L368.60,440.16L369.30,443.07L370.00,444.70L370.70,442.28L371.40,440.52L372.10,441.45L372.80,440.50L373.50,436.71L374.20,435.31L374.90,431.00L375.60,421.97L376.30,413.57L377.00,405.88L377.70,393.83L378.40,384.55L379.10,372.77L379.80,368.14L380.50,362.43L381.20,356.22L381.90,356.51L382.60,355.69L383.30,353.60L384.00,359.28L384.70,360.65L385.40,363.01L386.10,365.09L386.80,368.48L387.50,366.56L388.20,372.87L388.90,375.75L389.60,374.54L390.30,382.55L391.00,386.02L391.70,392.95L392.40,395.75L393.10,401.58L393.80,407.38L394.50,410.77L395.20,418.88L395.90,421.42L396.60,424.99L397.30,425.28L398.00,430.24L398.70,430.78L399.40,430.16L400.10,431.69L400.80,429.38L401.50,423.90L402.20,409.29L402.90,399.13L403.60,381.69L404.30,368.16L405.00,355.43L405.70,349.58L406.40,335.10L407.10,328.49L407.80,319.88L408.50,306.02L409.20,303.21L409.90,297.28L410.60,296.97L411.30,297.41L412.00,298.33L412.70,293.57L413.40,299.95L414.10,307.02L414.80,314.87L415.50,320.66L416.20,327.30L416.90,338.06L417.60,346.27L418.30,355.26L419.00,363.83L419.70,375.48L420.40,384.46L421.10,392.25L421.80,401.18L422.50,408.63L423.20,418.93L423.90,429.24L424.60,431.01L425.30,430.35L426.00,436.82L426.70,436.22L427.40,439.97L428.10,436.75L428.80,436.42L429.50,435.26L430.20,441.26L430.90,444.34L431.60,438.57L432.30,439.51L433.00,442.39L433.70,440.08L434.40,441.40L435.10,441.34L435.80,442.39L436.50,444.12L437.20,442.10L437.90,443.83L438.60,441.30L439.30,442.74L440.00,438.07L440.70,439.40L441.40,443.68L442.10,441.07L442.80,443.31L443.50,443.25L444.20,444.75L444.90,443.80L445.60,444.20L446.30,442.07L447.00,440.97L447.70,440.93L448.40,441.41L449.10,440.20L449.80,441.32L450.50,442.20L451.20,442.87L451.90,441.76L452.60,438.76L453.30,442.30L454.00,442.87L454.70,444.52L455.40,443.57L456.10,441.26L456.80,441.12L457.50,446.33L458.20,443.96L458.90,446.01L459.60,446.59L460.30,441.00L461.00,443.30L461.70,443.45L462.40,443.65L463.10,443.63L463.80,443.00L464.50,442.95L465.20,439.78L465.90,442.33L466.60,441.23L467.30,442.90L468.00,441.78L468.70,443.86L469.40,444.25L470.10,443.29L470.80,443.31L471.50,442.89L472.20,441.88L472.90,442.42L473.60,441.80L474.30,443.49L475.00,442.79L475.70,443.87L476.40,440.25L477.10,444.47L477.80,441.34L478.50,441.40L479.20,442.43L479.90,441.74L480.60,443.37L481.30,441.73L482.00,440.80L482.70,441.23L483.40,445.33L484.10,442.93L484.80,440.63L485.50,442.87L486.20,439.91L486.90,446.27L487.60,439.98L488.30,443.79L489.00,443.92L489.70,440.13L490.40,443.46L491.10,444.79L491.80,443.79L492.50,443.40L493.20,444.71L493.90,443.22L494.60,443.56L495.30,442.68L496.00,444.13L496.70,441.14L497.40,444.44L498.10,441.98L498.80,440.87L499.50,443.64L500.20,446.16L500.90,444.77L501.60,441.97L502.30,444.28L503.00,442.09L503.70,442.72L504.40,443.13L505.10,438.56L505.80,443.33L506.50,441.01L507.20,441.64L507.90,440.17L508.60,440.09L509.30,441.18L510.00,444.55L510.70,446.14L511.40,442.93L512.10,445.06L512.80,442.48L513.50,439.35L514.20,443.27L514.90,443.83L515.60,442.17L516.30,443.56L517.00,444.08L517.70,441.35L518.40,440.19L519.10,442.57L519.80,442.59L520.50,442.32L521.20,444.87L521.90,446.27L522.60,442.20L523.30,444.32L524.00,444.79L524.70,444.35L525.40,444.99L526.10,442.26L526.80,444.40L527.50,446.85L528.20,444.53L528.90,441.82L529.60,444.15L530.30,445.40L531.00,443.70L531.70,441.93L532.40,445.93L533.10,440.62L533.80,443.72L534.50,442.20L535.20,439.18L535.90,442.79L536.60,439.98L537.30,434.93L538.00,435.11L538.70,429.36L539.40,422.57L540.10,421.07L540.80,419.11L541.50,415.88L542.20,410.89L542.90,406.41L543.60,402.82L544.30,397.01L545.00,394.98L545.70,388.01L546.40,382.95L547.10,377.91L547.80,369.34L548.50,364.58L549.20,363.68L549.90,356.51L550.60,349.84L551.30,345.31L552.00,338.51L552.70,335.85L553.40,331.78L554.10,333.61L554.80,331.71L555.50,339.78L556.20,339.14L556.90,339.69L557.60,344.33L558.30,346.04L559.00,349.01L559.70,348.57L560.40,353.64L561.10,361.96L561.80,354.77L562.50,359.96L563.20,360.92L563.90,364.20L564.60,362.93L565.30,367.01L566.00,373.25L566.70,375.98L567.40,384.44L568.10,386.57L568.80,395.25L569.50,407.01L570.20,405.30L570.90,409.56L571.60,415.46L572.30,419.28L573.00,424.27L573.70,425.55L574.40,425.98L575.10,429.69L575.80,435.96L576.50,434.83L577.20,428.42L577.90,434.58L578.60,434.22L579.30,438.02L580.00,437.38L580.70,442.15L581.40,440.91L582.10,441.39L582.80,440.55L583.50,440.61L584.20,441.81L584.90,444.08L585.60,443.06L586.30,441.77L587.00,445.20L587.70,443.42L588.40,443.13L589.10,441.92L589.80,442.42L590.50,442.29L591.20,438.19L591.90,445.43L592.60,444.58L593.30,443.09L594.00,445.49L594.70,444.33L595.40,444.21L596.10,438.80L596.80,443.06L597.50,444.51L598.20,446.56L598.90,447.00L599.60,446.21L600.30,441.29L601.00,439.32L601.70,444.58L602.40,443.55L603.10,445.33L603.80,443.26L604.50,443.92L605.20,440.65L605.90,444.35L606.60,442.65L607.30,444.16L608.00,444.37L608.70,443.28L609.40,444.10L610.10,443.47L610.80,444.94L611.50,444.45L612.20,442.46L612.90,442.38L613.60,446.81L614.30,443.31L615.00,445.38L615.70,444.25L616.40,442.43L617.10,442.08L617.80,443.73L618.50,443.99L619.20,444.67L619.90,441.09L620.60,442.37L621.30,443.32L622.00,446.54L622.70,439.02L623.40,444.33L624.10,442.47L624.80,444.32L625.50,442.57L626.20,444.19L626.90,446.47L627.60,444.17L628.30,444.32L629.00,444.21L629.70,442.07L630.40,444.53L631.10,443.10L631.80,441.96L632.50,443.43L633.20,443.07L633.90,444.93" fill="none" stroke="#ee1620" stroke-width="2.8" stroke-linejoin="round" stroke-linecap="butt" stroke-dasharray="4.3 1.9" />
<path d="M464.5,443 V456" stroke="#ee1620" stroke-width="2"/>
<path d="M43.0,561.54H43.7V563.27H44.4V558.32H45.1V563.53H45.8V560.93H46.5V555.24H47.2V559.80H47.9V559.38H48.6V560.66H49.3V562.25H50.0V561.88H50.7V561.96H51.4V558.46H52.1V558.64H52.8V563.33H53.5V562.45H54.2V564.27H54.9V557.37H55.6V560.39H56.3V561.16H57.0V557.35H57.7V552.48H58.4V546.06H59.1V540.08H59.8V533.35H60.5V527.64H61.2V519.76H61.9V512.26H62.6V501.82H63.3V494.21H64.0V495.70H64.7V496.33H65.4V500.63H66.1V507.98H66.8V514.54H67.5V517.67H68.2V526.92H68.9V530.80H69.6V536.14H70.3V540.50H71.0V545.61H71.7V546.63H72.4V552.62H73.1V555.40H73.8V551.19H74.5V549.99H75.2V537.86H75.9V523.41H76.6V506.41H77.3V491.88H78.0V475.03H78.7V456.47H79.4V435.97H80.1V424.97H80.8V424.11H81.5V422.21H82.2V422.82H82.9V424.57H83.6V433.25H84.3V441.02H85.0V449.57H85.7V458.42H86.4V467.38H87.1V477.39H87.8V488.21H88.5V498.51H89.2V509.93H89.9V522.98H90.6V535.72H91.3V546.78H92.0V554.05H92.7V559.83H93.4V560.45H94.1V561.09H94.8V561.12H95.5V561.56H96.2V562.08H96.9V563.43H97.6V560.89H98.3V560.70H99.0V561.60H99.7V560.03H100.4V563.21H101.1V562.69H101.8V561.32H102.5V561.12H103.2V559.27H103.9V562.88H104.6V562.05H105.3V557.76H106.0V558.77H106.7V562.72H107.4V560.77H108.1V560.04H108.8V562.64H109.5V561.81H110.2V557.76H110.9V561.15H111.6V560.90H112.3V561.73H113.0V558.46H113.7V560.72H114.4V558.85H115.1V562.14H115.8V559.67H116.5V556.89H117.2V559.22H117.9V561.69H118.6V562.51H119.3V563.90H120.0V561.90H120.7V560.10H121.4V562.63H122.1V561.28H122.8V561.00H123.5V561.33H124.2V563.21H124.9V559.95H125.6V559.76H126.3V561.20H127.0V561.20H127.7V560.08H128.4V559.98H129.1V561.87H129.8V563.31H130.5V556.87H131.2V562.33H131.9V563.17H132.6V557.47H133.3V559.03H134.0V560.24H134.7V554.30H135.4V559.82H136.1V558.87H136.8V559.37H137.5V560.63H138.2V558.24H138.9V559.84H139.6V563.32H140.3V557.00H141.0V561.79H141.7V562.36H142.4V559.42H143.1V562.17H143.8V561.62H144.5V562.35H145.2V560.35H145.9V555.43H146.6V559.77H147.3V560.47H148.0V562.10H148.7V560.78H149.4V560.70H150.1V561.03H150.8V562.95H151.5V560.44H152.2V561.98H152.9V559.46H153.6V560.41H154.3V562.58H155.0V562.08H155.7V560.02H156.4V557.77H157.1V560.24H157.8V562.58H158.5V562.11H159.2V560.23H159.9V556.42H160.6V560.67H161.3V560.83H162.0V560.61H162.7V557.91H163.4V560.09H164.1V559.61H164.8V558.92H165.5V559.16H166.2V556.27H166.9V552.82H167.6V554.53H168.3V553.64H169.0V554.49H169.7V554.96H170.4V554.96H171.1V552.83H171.8V552.99H172.5V551.43H173.2V554.27H173.9V552.19H174.6V550.89H175.3V550.84H176.0V551.97H176.7V555.10H177.4V554.17H178.1V550.77H178.8V553.48H179.5V554.46H180.2V555.43H180.9V554.04H181.6V554.59H182.3V557.12H183.0V556.77H183.7V555.32H184.4V552.99H185.1V559.01H185.8V561.77H186.5V562.19H187.2V559.27H187.9V561.29H188.6V561.31H189.3V557.73H190.0V557.34H190.7V561.16H191.4V561.50H192.1V560.41H192.8V551.73H193.5V555.76H194.2V560.43H194.9V559.97H195.6V560.81H196.3V559.61H197.0V562.02H197.7V560.89H198.4V560.46H199.1V561.72H199.8V561.25H200.5V559.02H201.2V561.08H201.9V560.61H202.6V558.69H203.3V560.32H204.0V561.94H204.7V560.37H205.4V563.41H206.1V563.85H206.8V560.84H207.5V562.13H208.2V564.29H208.9V560.80H209.6V559.95H210.3V558.16H211.0V559.24H211.7V559.28H212.4V560.96H213.1V560.67H213.8V561.67H214.5V562.03H215.2V560.15H215.9V561.01H216.6V560.90H217.3V560.30H218.0V560.05H218.7V561.77H219.4V561.09H220.1V561.80H220.8V562.80H221.5V560.86H222.2V559.63H222.9V560.02H223.6V560.92H224.3V561.49H225.0V562.71H225.7V559.86H226.4V560.64H227.1V561.67H227.8V563.14H228.5V563.37H229.2V559.79H229.9V560.98H230.6V560.09H231.3V562.57H232.0V561.97H232.7V560.76H233.4V560.38H234.1V561.74H234.8V562.77H235.5V560.12H236.2V560.81H236.9V561.21H237.6V561.33H238.3V561.81H239.0V559.80H239.7V558.21H240.4V558.15H241.1V561.38H241.8V562.91H242.5V558.19H243.2V560.35H243.9V562.65H244.6V561.09H245.3V556.04H246.0V563.05H246.7V559.16H247.4V563.36H248.1V560.42H248.8V560.24H249.5V561.34H250.2V561.27H250.9V562.20H251.6V562.05H252.3V559.73H253.0V563.28H253.7V562.37H254.4V561.71H255.1V561.50H255.8V561.16H256.5V561.18H257.2V562.30H257.9V562.01H258.6V561.36H259.3V562.82H260.0V560.91H260.7V559.42H261.4V562.59H262.1V559.63H262.8V560.90H263.5V563.27H264.2V559.86H264.9V563.03H265.6V559.71H266.3V561.91H267.0V559.70H267.7V560.38H268.4V559.22H269.1V560.48H269.8V562.81H270.5V562.55H271.2V562.61H271.9V561.59H272.6V563.76H273.3V562.84H274.0V561.79H274.7V559.73H275.4V562.33H276.1V562.28H276.8V561.24H277.5V562.37H278.2V556.95H278.9V558.23H279.6V562.15H280.3V561.82H281.0V561.77H281.7V560.79H282.4V558.12H283.1V561.48H283.8V563.45H284.5V564.79H285.2V560.75H285.9V559.72H286.6V560.79H287.3V560.05H288.0V560.67H288.7V561.90H289.4V554.43H290.1V562.21H290.8V559.48H291.5V563.57H292.2V558.93H292.9V561.84H293.6V564.70H294.3V560.55H295.0V561.71H295.7V561.56H296.4V561.96H297.1V562.84H297.8V560.82H298.5V563.87H299.2V563.21H299.9V561.83H300.6V562.01H301.3V559.85H302.0V557.59H302.7V561.18H303.4V561.79H304.1V561.65H304.8V559.67H305.5V560.64H306.2V563.94H306.9V562.40H307.6V562.24H308.3V560.85H309.0V556.92H309.7V563.24H310.4V562.45H311.1V560.71H311.8V561.74H312.5V560.00H313.2V560.86H313.9V562.20H314.6V560.52H315.3V559.82H316.0V559.67H316.7V561.07H317.4V562.46H318.1V560.87H318.8V559.62H319.5V559.19H320.2V560.79H320.9V558.32H321.6V559.53H322.3V560.35H323.0V563.52H323.7V560.47H324.4V561.27H325.1V562.26H325.8V561.76H326.5V560.82H327.2V563.85H327.9V563.32" fill="none" stroke="#000" stroke-width="3.2" stroke-linejoin="miter"/>
<path d="M349.0,558.34H349.7V558.61H350.4V553.68H351.1V559.43H351.8V562.33H352.5V558.06H353.2V558.46H353.9V559.51H354.6V558.12H355.3V559.32H356.0V560.96H356.7V562.00H357.4V563.32H358.1V561.55H358.8V562.53H359.5V559.67H360.2V559.08H360.9V557.89H361.6V558.68H362.3V559.79H363.0V560.57H363.7V558.46H364.4V561.44H365.1V560.16H365.8V559.40H366.5V559.23H367.2V563.13H367.9V560.54H368.6V559.04H369.3V558.96H370.0V562.87H370.7V559.49H371.4V561.96H372.1V562.29H372.8V557.05H373.5V562.19H374.2V554.51H374.9V557.49H375.6V559.53H376.3V561.09H377.0V560.72H377.7V560.90H378.4V559.29H379.1V560.99H379.8V562.40H380.5V561.57H381.2V561.70H381.9V562.41H382.6V563.23H383.3V561.29H384.0V561.53H384.7V561.12H385.4V561.07H386.1V561.51H386.8V557.32H387.5V558.76H388.2V560.98H388.9V557.35H389.6V558.02H390.3V562.52H391.0V558.82H391.7V558.15H392.4V560.83H393.1V559.63H393.8V559.09H394.5V559.58H395.2V559.70H395.9V559.49H396.6V560.56H397.3V562.55H398.0V560.80H398.7V562.57H399.4V561.34H400.1V561.47H400.8V561.12H401.5V559.88H402.2V560.89H402.9V560.72H403.6V555.30H404.3V560.58H405.0V561.11H405.7V560.82H406.4V559.52H407.1V556.61H407.8V562.35H408.5V560.20H409.2V557.25H409.9V561.21H410.6V553.82H411.3V561.26H412.0V557.56H412.7V561.89H413.4V558.71H414.1V559.76H414.8V560.51H415.5V562.02H416.2V558.49H416.9V561.95H417.6V561.26H418.3V559.52H419.0V557.44H419.7V559.67H420.4V560.38H421.1V560.52H421.8V554.40H422.5V560.26H423.2V561.62H423.9V559.26H424.6V562.49H425.3V560.20H426.0V560.41H426.7V563.77H427.4V560.34H428.1V560.11H428.8V560.31H429.5V561.12H430.2V559.43H430.9V559.96H431.6V557.84H432.3V558.83H433.0V558.87H433.7V558.68H434.4V559.68H435.1V561.27H435.8V559.76H436.5V558.45H437.2V560.64H437.9V560.54H438.6V558.34H439.3V560.51H440.0V558.80H440.7V559.40H441.4V558.95H442.1V561.45H442.8V559.14H443.5V559.85H444.2V559.18H444.9V561.74H445.6V561.95H446.3V558.87H447.0V561.96H447.7V560.72H448.4V561.97H449.1V561.77H449.8V559.55H450.5V557.74H451.2V557.31H451.9V560.82H452.6V562.61H453.3V557.13H454.0V559.37H454.7V563.85H455.4V558.91H456.1V560.30H456.8V560.28H457.5V558.52H458.2V560.86H458.9V561.79H459.6V560.19H460.3V560.38H461.0V560.07H461.7V557.83H462.4V560.64H463.1V558.56H463.8V558.96H464.5V555.43H465.2V561.59H465.9V559.09H466.6V561.90H467.3V562.77H468.0V560.54H468.7V560.03H469.4V560.49H470.1V559.74H470.8V559.11H471.5V561.20H472.2V561.31H472.9V559.60H473.6V559.74H474.3V559.43H475.0V559.32H475.7V558.95H476.4V558.20H477.1V561.57H477.8V558.97H478.5V559.66H479.2V562.74H479.9V559.62H480.6V561.11H481.3V558.42H482.0V553.93H482.7V555.77H483.4V554.43H484.1V558.30H484.8V556.73H485.5V560.76H486.2V559.00H486.9V561.24H487.6V560.67H488.3V559.84H489.0V560.14H489.7V561.33H490.4V560.33H491.1V558.97H491.8V558.83H492.5V559.80H493.2V559.97H493.9V561.08H494.6V560.74H495.3V561.70H496.0V560.03H496.7V559.66H497.4V559.82H498.1V560.81H498.8V559.18H499.5V559.79H500.2V559.12H500.9V559.22H501.6V560.04H502.3V563.62H503.0V558.04H503.7V560.56H504.4V557.34H505.1V560.05H505.8V560.34H506.5V562.98H507.2V559.94H507.9V562.49H508.6V555.68H509.3V559.11H510.0V559.41H510.7V559.67H511.4V558.81H512.1V560.12H512.8V560.86H513.5V561.02H514.2V558.89H514.9V560.94H515.6V559.56H516.3V563.62H517.0V560.17H517.7V560.69H518.4V559.53H519.1V559.63H519.8V559.77H520.5V559.76H521.2V560.45H521.9V558.78H522.6V560.08H523.3V560.34H524.0V559.20H524.7V558.44H525.4V558.67H526.1V559.60H526.8V558.29H527.5V561.61H528.2V560.32H528.9V560.26H529.6V558.92H530.3V561.01H531.0V559.80H531.7V558.99H532.4V559.42H533.1V563.53H533.8V558.83H534.5V559.11H535.2V561.85H535.9V561.29H536.6V559.90H537.3V561.81H538.0V558.29H538.7V559.63H539.4V557.81H540.1V562.14H540.8V560.34H541.5V562.81H542.2V560.90H542.9V560.92H543.6V556.74H544.3V558.66H545.0V559.60H545.7V561.03H546.4V558.83H547.1V557.01H547.8V561.39H548.5V561.47H549.2V558.98H549.9V557.91H550.6V561.73H551.3V561.80H552.0V557.30H552.7V560.28H553.4V558.69H554.1V561.50H554.8V560.31H555.5V558.53H556.2V560.32H556.9V560.10H557.6V558.05H558.3V557.22H559.0V559.23H559.7V559.74H560.4V559.37H561.1V557.65H561.8V558.00H562.5V554.59H563.2V560.70H563.9V558.93H564.6V560.37H565.3V562.71H566.0V555.05H566.7V559.55H567.4V555.63H568.1V560.80H568.8V560.48H569.5V559.76H570.2V559.67H570.9V560.75H571.6V560.76H572.3V560.00H573.0V561.78H573.7V558.07H574.4V561.18H575.1V560.04H575.8V561.37H576.5V562.83H577.2V560.30H577.9V559.97H578.6V560.21H579.3V562.14H580.0V562.36H580.7V560.48H581.4V561.15H582.1V560.84H582.8V561.01H583.5V558.22H584.2V559.16H584.9V559.62H585.6V560.83H586.3V559.52H587.0V562.20H587.7V559.57H588.4V562.46H589.1V559.40H589.8V562.16H590.5V555.07H591.2V562.27H591.9V563.02H592.6V562.74H593.3V559.20H594.0V557.24H594.7V559.22H595.4V555.96H596.1V557.58H596.8V562.10H597.5V561.77H598.2V558.80H598.9V564.17H599.6V559.44H600.3V561.57H601.0V558.13H601.7V559.53H602.4V562.08H603.1V561.81H603.8V558.89H604.5V560.27H605.2V561.94H605.9V557.83H606.6V559.88H607.3V558.23H608.0V561.25H608.7V559.18H609.4V556.26H610.1V559.65H610.8V559.84H611.5V558.68H612.2V559.01H612.9V559.94H613.6V553.41H614.3V559.54H615.0V561.26H615.7V555.84H616.4V557.53H617.1V558.63H617.8V561.46H618.5V558.72H619.2V560.14H619.9V561.37H620.6V561.57H621.3V562.01H622.0V562.42H622.7V557.01H623.4V561.10H624.1V561.07H624.8V560.04H625.5V558.48H626.2V560.51H626.9V560.08H627.6V563.02H628.3V562.13H629.0V559.74H629.7V558.84H630.4V559.13H631.1V560.24H631.8V559.30H632.5V563.06H633.2V558.45H633.9V560.19" fill="none" stroke="#000" stroke-width="3.2" stroke-linejoin="miter"/>
<path d="M651.0,561.55H652.0V561.21H653.0V560.93H654.0V558.67H655.0V561.41H656.0V558.85H657.0V561.88H658.0V561.57H659.0V561.79H660.0V560.43H661.0V561.25H662.0V560.41H663.0V560.63H664.0V562.44H665.0V560.34H666.0V560.69H667.0V560.19H668.0V560.39H669.0V560.60H670.0V561.16H671.0V560.60H672.0V560.54H673.0V560.27H674.0V560.97H675.0V559.53H676.0V560.92H677.0V562.17H678.0V560.09H679.0V560.81H680.0V563.67H681.0V559.85H682.0V559.22H683.0V560.41H684.0V562.63H685.0V562.86H686.0V559.60H687.0V561.38H688.0V560.81H689.0V560.21H690.0V558.85H691.0V561.82H692.0V559.92H693.0V561.08H694.0V560.86H695.0V559.30H696.0V561.94H697.0V559.60H698.0V560.49H699.0V561.79H700.0V559.41H701.0V560.35H702.0V560.96H703.0V559.11H704.0V559.49H705.0V559.01H706.0V559.96H707.0V560.15H708.0V561.63H709.0V560.81H710.0V561.26H711.0V560.60H712.0V561.43H713.0V560.57H714.0V559.69H715.0V561.85H716.0V561.64H717.0V562.92H718.0V560.51H719.0V560.06H720.0V559.19H721.0V556.77H722.0V559.32H723.0V561.11H724.0V559.73H725.0V553.55H726.0V558.06H727.0V560.01H728.0V560.24H729.0V560.16H730.0V560.45H731.0V561.06H732.0V558.84H733.0V560.34H734.0V558.91H735.0V561.70H736.0V559.52H737.0V562.19H738.0V561.15H739.0V562.16H740.0V559.83H741.0V561.33H742.0V560.89H743.0V559.02H744.0V558.89H745.0V560.06H746.0V559.54H747.0V559.73H748.0V559.05H749.0V560.02H750.0V560.82H751.0V559.70H752.0V558.91H753.0V561.51H754.0V560.09H755.0V560.48H756.0V560.22H757.0V559.90H758.0V561.04H759.0V559.90H760.0V560.46H761.0V558.98H762.0V558.78H763.0V560.02H764.0V562.32H765.0V560.58H766.0V562.33H767.0V560.84H768.0V560.84H769.0V559.80H770.0V560.35H771.0V562.16H772.0V561.55H773.0V559.74H774.0V559.89H775.0V561.69H776.0V559.83H777.0V561.26H778.0V559.43H779.0V560.08H780.0V561.85H781.0V561.15H782.0V560.56H783.0V560.45H784.0V560.22H785.0V560.28H786.0V561.47H787.0V561.44H788.0V560.69H789.0V559.02H790.0V559.75H791.0V560.56H792.0V560.31H793.0V557.60H794.0V560.92H795.0V562.84H796.0V559.01H797.0V560.30H798.0V561.85H799.0V559.81H800.0V559.81H801.0V558.37H802.0V560.29H803.0V559.79H804.0V561.18H805.0V558.29H806.0V560.84H807.0V560.55H808.0V560.02H809.0V560.56H810.0V560.22H811.0V561.49H812.0V559.70H813.0V560.11H814.0V558.76H815.0V559.02H816.0V559.90H817.0V558.57H818.0V559.28H819.0V558.79H820.0V559.62H821.0V560.23H822.0V561.05H823.0V558.16H824.0V559.89H825.0V560.95H826.0V559.81H827.0V561.48H828.0V558.64H829.0V559.55H830.0V560.63H831.0V561.00H832.0V560.33H833.0V560.31H834.0V555.52H835.0V559.27H836.0V560.19H837.0V560.84H838.0V559.68H839.0V561.19H840.0V557.17H841.0V559.68H842.0V561.70" fill="none" stroke="#000" stroke-width="2.6" stroke-linejoin="miter"/>
<path d="M843.5,560.86H844.1V557.22H844.7V551.77H845.3V555.23H845.9V554.61H846.5V554.93H847.1V557.79H847.7V550.92H848.3V558.88H848.9V551.21H849.5V554.45H850.1V558.17H850.7V557.18H851.3V552.08H851.9V560.66H852.5V555.29H853.1V550.17H853.7V553.33H854.3V549.70H854.9V553.71H855.5V546.72H856.1V552.61H856.7V543.47H857.3V552.32H857.9V547.58H858.5V548.19H859.1V540.82H859.7V535.15H860.3V534.76H860.9V535.12H861.5V537.91H862.1V530.86H862.7V524.72H863.3V516.05H863.9V505.36H864.5V501.76H865.1V506.39H865.7V498.39H866.3V495.86H866.9V497.63H867.5V487.79H868.1V486.27H868.7V479.01H869.3V477.99H869.9V476.68H870.5V473.25H871.1V461.76H871.7V453.49H872.3V454.85H872.9V450.36H873.5V436.99H874.1V431.56H874.7V424.05H875.3V415.17H875.9V412.19H876.5V419.45H877.1V422.51H877.7V421.03H878.3V425.85H878.9V425.72H879.5V426.32H880.1V426.93H880.7V435.25H881.3V434.75H881.9V437.56H882.5V441.50H883.1V457.20H883.7V461.19H884.3V468.73H884.9V470.11H885.5V477.77H886.1V478.77H886.7V484.24H887.3V479.20H887.9V483.40H888.5V483.11H889.1V493.60H889.7V486.98H890.3V489.60H890.9V484.77H891.5V488.24H892.1V486.40H892.7V492.54H893.3V490.37H893.9V499.74H894.5V492.59H895.1V500.34H895.7V498.76H896.3V504.30H896.9V503.28H897.5V510.18H898.1V513.41H898.7V514.06H899.3V521.01H899.9V516.33H900.5V523.01H901.1V524.97H901.7V527.89H902.3V525.46H902.9V533.27H903.5V529.42H904.1V531.72H904.7V531.62H905.3V534.64H905.9V538.25H906.5V547.82H907.1V529.87H907.7V542.87H908.3V543.62H908.9V546.42H909.5V543.06H910.1V544.49H910.7V549.69H911.3V544.60H911.9V545.48H912.5V545.41H913.1V547.46H913.7V552.47H914.3V543.86H914.9V551.29H915.5V539.80H916.1V549.63H916.7V546.94H917.3V553.04H917.9V550.58H918.5V551.12H919.1V551.48H919.7V550.93H920.3V543.15H920.9V550.43H921.5V545.93H922.1V554.38H922.7V548.78H923.3V551.34H923.9V549.90H924.5V551.52H925.1V552.81H925.7V554.18H926.3V548.47H926.9V558.26H927.5V549.57H928.1V552.90H928.7V544.57H929.3V555.02H929.9V557.61H930.5V558.69H931.1V556.66H931.7V556.85H932.3V553.27H932.9V554.49H933.5V555.54H934.1V557.11H934.7V553.37H935.3V556.27H935.9V559.82" fill="none" stroke="#000" stroke-width="3.7" stroke-linejoin="miter"/>
<path d="M697.5,561V552M794.5,561V552.5" stroke="#000" stroke-width="1.6"/>
<path d="M843,564 V546 H846 V549 H849 V551 H852 V547 H854 V550 H857 V545 L859,564 Z" fill="#000"/>
<path d="M843,561 L843,524 L844,552" fill="none" stroke="#000" stroke-width="2.4"/>
<rect x="42.2" y="47.0" width="286.3" height="517.2" fill="none" stroke="#000" stroke-width="2.2"/>
<rect x="348.0" y="47.0" width="287.0" height="517.2" fill="none" stroke="#000" stroke-width="2.2"/>
<rect x="650.5" y="47.0" width="286.5" height="517.2" fill="none" stroke="#000" stroke-width="2.2"/>
<path d="M124.00,47.00V57.00M124.00,564.20V554.20M205.80,47.00V57.00M205.80,564.20V554.20M287.60,47.00V57.00M287.60,564.20V554.20M83.10,47.00V53.00M83.10,564.20V558.20M164.90,47.00V53.00M164.90,564.20V558.20M246.70,47.00V53.00M246.70,564.20V558.20M411.78,47.00V57.00M411.78,564.20V554.20M539.33,47.00V57.00M539.33,564.20V554.20M475.56,47.00V53.00M475.56,564.20V558.20M603.11,47.00V53.00M603.11,564.20V558.20M698.25,47.00V57.00M698.25,564.20V554.20M793.75,47.00V57.00M793.75,564.20V554.20M889.25,47.00V57.00M889.25,564.20V554.20M746.00,47.00V53.00M746.00,564.20V558.20M841.50,47.00V53.00M841.50,564.20V558.20" stroke="#000" stroke-width="2" fill="none"/>
<rect x="41.2" y="46" width="55.8" height="45" fill="#000"/>
<text x="68.3" y="81" font-size="42" font-weight="bold" fill="#fff" text-anchor="middle">a</text>
<rect x="347.6" y="46" width="55.1" height="45" fill="#000"/>
<text x="374.1" y="81" font-size="42" font-weight="bold" fill="#fff" text-anchor="middle">b</text>
<rect x="649.7" y="46" width="56.5" height="45" fill="#000"/>
<text x="678.2" y="81" font-size="42" font-weight="bold" fill="#fff" text-anchor="middle">c</text>
<path d="M86.3,17.5H147.7" stroke="#000" stroke-width="2.6"/>
<path d="M315,18H378" stroke="#ee1620" stroke-width="3" stroke-dasharray="6.8 4.2"/>
<path d="M528.5,18H590" stroke="#16823a" stroke-width="3" stroke-linecap="round" stroke-dasharray="0.01 4.9"/>
<path d="M740.4,18H803" stroke="#3346a8" stroke-width="3.1" stroke-dasharray="9.6 3 3 3.7"/>
<text x="42.2" y="600.0" font-size="31.5" text-anchor="middle" stroke="#000" stroke-width="0.3" >500</text>
<text x="124.0" y="600.0" font-size="31.5" text-anchor="middle" stroke="#000" stroke-width="0.3" >600</text>
<text x="205.8" y="600.0" font-size="31.5" text-anchor="middle" stroke="#000" stroke-width="0.3" >700</text>
<text x="287.6" y="600.0" font-size="31.5" text-anchor="middle" stroke="#000" stroke-width="0.3" >800</text>
<text x="411.8" y="600.0" font-size="31.5" text-anchor="middle" stroke="#000" stroke-width="0.3" >550</text>
<text x="539.3" y="600.0" font-size="31.5" text-anchor="middle" stroke="#000" stroke-width="0.3" >650</text>
<text x="698.2" y="600.0" font-size="31.5" text-anchor="middle" stroke="#000" stroke-width="0.3" >800</text>
<text x="793.8" y="600.0" font-size="31.5" text-anchor="middle" stroke="#000" stroke-width="0.3" >900</text>
<text x="889.2" y="600.0" font-size="31.5" text-anchor="middle" stroke="#000" stroke-width="0.3" >1000</text>
<text x="237.0" y="196.7" font-size="31" text-anchor="middle" stroke="#000" stroke-width="0.3" >1x</text>
<text x="238.0" y="314.0" font-size="31" text-anchor="middle" stroke="#000" stroke-width="0.3" >1.5x</text>
<text x="236.0" y="436.7" font-size="31" text-anchor="middle" stroke="#000" stroke-width="0.3" >5x</text>
<text x="237.0" y="549.6" font-size="31" text-anchor="middle" stroke="#000" stroke-width="0.3" >300x</text>
<text x="486.0" y="196.7" font-size="31" text-anchor="middle" stroke="#000" stroke-width="0.3" >1x</text>
<text x="486.0" y="314.0" font-size="31" text-anchor="middle" stroke="#000" stroke-width="0.3" >1x</text>
<text x="485.5" y="436.8" font-size="31" text-anchor="middle" stroke="#000" stroke-width="0.3" >375x</text>
<text x="485.0" y="550.0" font-size="31" text-anchor="middle" stroke="#000" stroke-width="0.3" >2000x</text>
<text x="774.0" y="196.7" font-size="31" text-anchor="middle" stroke="#000" stroke-width="0.3" >1x</text>
<text x="773.0" y="314.0" font-size="31" text-anchor="middle" stroke="#000" stroke-width="0.3" >1.5x</text>
<text x="773.5" y="436.9" font-size="31" text-anchor="middle" stroke="#000" stroke-width="0.3" >80x</text>
<text x="773.0" y="550.0" font-size="31" text-anchor="middle" stroke="#000" stroke-width="0.3" >2000x</text>
<text x="155.0" y="27.0" font-size="30.6" text-anchor="start" stroke="#000" stroke-width="0.3" >0.01 at%</text>
<text x="383.5" y="27.0" font-size="30.6" text-anchor="start" stroke="#000" stroke-width="0.3" >0.1 at%</text>
<text x="597.0" y="27.0" font-size="30.6" text-anchor="start" stroke="#000" stroke-width="0.3" >0.5 at%</text>
<text x="809.0" y="27.0" font-size="30.6" text-anchor="start" stroke="#000" stroke-width="0.3" >1 at%</text>
<text x="491.3" y="655.8" font-size="31.6" text-anchor="middle" stroke="#000" stroke-width="0.3" >Wavelength (nm)</text>
<text transform="translate(23.4,329) rotate(-90)" font-size="31.8" text-anchor="middle" stroke="#000" stroke-width="0.3">PL intensity (a.u.)</text>
</svg>
</body></html>
